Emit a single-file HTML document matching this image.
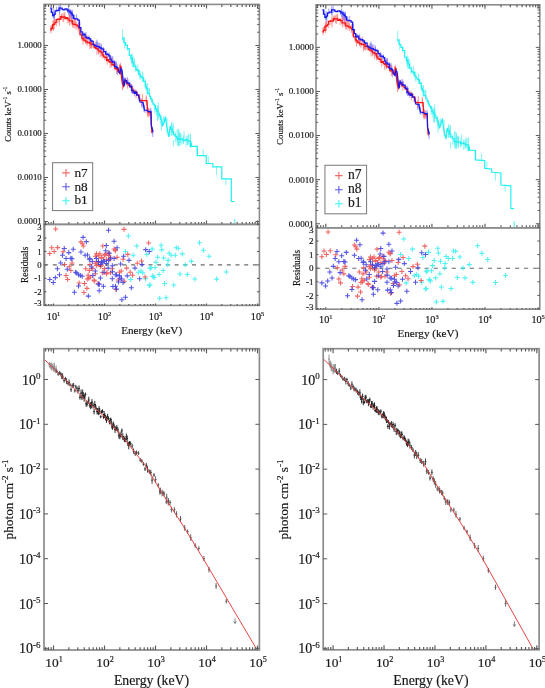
<!DOCTYPE html><html><head><meta charset="utf-8"><style>html,body{margin:0;padding:0;background:#fff;}svg{display:block;filter:blur(0.4px);}text{font-family:"Liberation Serif",serif;stroke:#151515;stroke-width:0.17px;}</style></head><body><svg width="545" height="688" viewBox="0 0 545 688" font-family="Liberation Serif, serif">
<rect width="545" height="688" fill="#fff"/>
<path d="M96.70 41.32v8.55M98.07 43.02v6.52M69.18 8.78v6.78M131.72 84.40v4.82M59.52 6.78v7.16M54.51 12.06v8.79M117.42 67.55v3.94M51.74 9.15v3.36M69.75 9.97v3.18M97.89 41.86v8.05M103.57 47.98v6.00M118.30 68.13v4.67M152.76 129.00v8.04M122.96 76.70v4.38M79.91 21.72v7.60M91.36 39.95v5.32M148.69 111.23v3.00M71.76 13.47v5.82M150.98 109.37v3.44M114.91 63.48v4.62M59.16 4.11v8.78M128.13 79.36v4.48M60.59 3.31v7.78M68.47 8.92v5.68M69.80 11.67v3.79M116.37 62.88v5.52M72.08 9.75v8.83M132.79 85.64v8.31M71.86 10.36v8.13M116.18 60.76v8.94M72.12 10.35v7.64M84.02 32.31v3.44M59.46 7.23v4.46M112.01 56.81v5.72M148.80 108.11v6.45M139.28 94.44v3.92M143.59 104.45v4.50M69.71 9.20v8.64M70.41 10.90v8.29M112.24 58.37v3.62M54.18 14.51v4.43M122.63 71.36v7.94M111.52 56.67v4.05M124.25 80.82v4.37M107.70 52.98v6.69M79.01 21.84v4.22M51.90 7.58v5.67M56.41 6.72v5.21M109.02 52.34v5.17M141.79 100.75v6.94M121.26 67.30v3.84M53.81 9.11v8.46M122.26 72.88v3.13M115.60 62.07v7.38M82.98 34.25v3.45M106.34 50.13v8.40M125.97 77.65v7.76M144.26 104.66v7.11M142.81 101.20v5.50M131.47 86.17v6.44M114.45 60.19v6.50M112.79 56.12v6.84M152.31 127.09v7.37M90.13 37.82v6.49M95.49 44.17v3.50M127.32 77.14v6.61M99.64 42.68v7.19M101.32 44.73v8.52M76.50 14.24v4.81M119.91 70.16v4.02M143.31 101.86v5.65M141.87 98.12v7.00M70.61 9.27v7.84M144.18 107.28v5.31M110.14 55.05v3.82M101.24 45.77v8.09M123.31 81.51v4.66M67.59 8.24v4.65M72.21 11.50v6.75M100.97 43.53v8.03M151.15 116.49v3.45M53.44 15.32v3.25M123.05 78.16v4.85M131.57 84.30v3.82M96.96 39.63v7.98M74.61 14.71v3.28M114.88 61.03v6.78M117.54 66.12v8.75M120.57 66.54v5.85M68.57 6.73v5.83M123.62 80.41v4.63M85.74 34.01v6.12M113.37 60.45v5.36M131.61 88.08v3.52M146.07 109.31v3.78M96.82 41.71v8.46M88.94 35.20v8.28M132.11 88.10v5.78M117.16 63.73v7.33M134.33 88.80v7.31M72.13 12.29v8.88M150.67 107.78v7.74M83.14 31.69v8.13M86.03 32.03v5.65M106.77 51.98v5.92M53.12 14.24v3.38M132.43 86.04v5.01M131.20 84.01v3.89M103.30 47.01v8.04M121.07 67.41v5.96" stroke="#7a7aff" stroke-width="1.0" fill="none" opacity="0.7"/>
<path d="M98.51 46.80v7.66M64.72 12.15v5.62M78.10 23.39v7.83M111.43 59.12v7.63M64.99 15.07v4.14M142.43 93.93v8.73M57.80 18.03v5.36M91.39 44.15v3.13M56.39 19.84v6.56M59.46 16.21v9.63M61.66 15.29v3.95M82.02 36.74v4.14M121.14 65.69v4.20M133.24 88.20v5.93M110.87 59.28v5.69M53.30 21.44v9.77M149.59 110.57v5.49M87.17 38.18v7.72M61.79 13.51v5.54M102.26 51.99v6.50M53.06 24.19v6.01M103.03 50.16v5.99M89.72 42.31v3.72M106.19 53.14v7.87M53.95 20.35v5.41M115.04 61.76v6.21M71.46 17.07v6.33M147.80 106.36v9.69M67.26 17.63v5.55M69.46 16.24v9.38M50.88 25.08v8.39M84.99 37.14v3.06M54.27 19.31v9.89M151.85 129.90v3.17M83.03 35.89v8.82M115.29 62.80v6.69M98.80 48.32v4.84M146.57 100.40v4.14M79.86 29.91v4.95M146.29 96.64v7.87M121.94 76.70v5.00M76.15 21.58v7.86M63.61 16.23v5.94M74.76 18.53v9.86M107.20 55.38v9.44M148.13 109.97v5.92M110.10 59.42v8.52M109.26 57.51v5.58M125.11 79.74v3.12M122.49 81.68v8.58M141.56 99.18v6.74M130.53 84.12v3.69M86.15 34.79v9.54M120.35 62.72v7.35M62.90 13.45v7.90M90.33 39.04v5.85M83.14 37.87v3.99M59.42 13.74v7.87M127.53 79.06v9.54M87.42 35.70v6.41M95.37 41.65v7.67M84.94 35.98v5.29M146.28 95.28v5.52M78.67 22.07v6.03M72.63 21.18v6.51M121.27 68.04v6.25M111.94 62.54v4.75M96.99 45.86v8.82M73.36 18.99v8.33M90.44 40.36v7.64M149.19 108.89v7.77M85.85 38.89v5.26M101.09 49.14v5.15M64.04 12.55v6.81M75.84 17.82v8.63M79.28 27.18v7.19M89.81 40.10v9.28M82.87 33.15v7.49M135.99 89.79v8.49M92.18 42.75v4.84M91.62 40.73v5.69M90.87 43.08v4.19M71.08 14.87v9.80M103.42 48.43v8.85M139.13 95.85v5.51M124.99 77.94v3.96M138.29 95.21v4.48M139.76 94.60v5.16M51.52 25.24v4.14M123.07 81.96v4.33M68.94 13.82v9.04M111.98 57.35v7.79M104.79 53.41v6.69M116.52 67.59v6.54M114.90 63.01v7.44M89.75 39.10v6.62M122.99 79.13v9.47M100.24 49.34v7.83M147.55 108.97v5.99M91.52 40.50v8.28M135.62 89.67v3.44M61.21 14.02v3.40M51.06 26.88v3.79M119.96 64.12v9.76M147.98 107.89v9.65M53.06 19.49v9.48M98.60 44.31v8.30M93.32 43.01v5.21M74.81 18.12v7.25M147.19 102.74v8.36" stroke="#ff7070" stroke-width="1.0" fill="none" opacity="0.7"/>
<path d="M140.04 71.08v9.16M180.48 134.15v5.08M132.38 53.48v9.61M131.22 54.35v4.93M142.48 71.53v10.54M163.98 117.39v5.48M132.35 56.92v10.29M177.51 136.09v9.70M187.33 139.96v5.31M180.52 133.61v9.80M160.94 115.91v6.28M151.74 97.34v4.06M178.45 134.77v11.87M169.63 126.66v9.74M131.54 54.69v6.99M134.40 58.23v7.70M139.65 69.54v8.45M149.41 88.89v7.42M138.43 68.34v4.75M147.40 83.32v8.86M187.63 135.53v9.47M186.21 135.70v4.28M177.52 136.64v8.75M133.24 56.40v10.81M183.00 138.95v4.83M180.78 133.21v9.45M131.69 56.23v8.43M171.81 123.50v8.56M162.09 120.71v6.23M172.15 126.51v5.66M133.57 61.86v4.01M137.75 64.37v8.79M160.40 116.34v3.35M152.41 98.97v3.83M122.50 36.28v4.09M142.95 72.81v8.38M127.60 44.48v6.30M179.46 132.71v6.01M156.31 107.78v7.65M154.78 104.54v5.67M124.47 37.29v11.19M172.88 125.73v9.16M180.46 132.97v8.29M146.66 83.90v5.59M136.26 67.20v3.34M149.54 87.71v9.82M163.39 116.13v9.96M135.34 64.11v7.99M145.10 79.22v6.91M131.68 57.79v4.01M178.71 134.30v5.73M148.90 88.89v4.15M147.03 83.48v10.89M190.10 134.65v7.82M131.16 55.42v5.90M183.46 137.93v4.13M122.64 28.98v10.81M132.56 57.23v6.34M145.93 85.55v4.92M171.51 124.03v11.42" stroke="#66f2f2" stroke-width="1.0" fill="none" opacity="0.75"/>
<path d="M173.40 140.00V146.20M197.00 146.20V155.40M203.20 149.20V156.40M208.30 156.40V163.60M216.50 166.70V174.90M225.80 178.00V185.20" stroke="#66f2f2" stroke-width="1" opacity="0.8"/>
<path d="M157.75 106.29v14.52M188.59 134.06v10.56M180.96 134.51v11.03M179.12 130.05v15.78M158.18 102.09v17.01M167.05 117.89v16.04M177.17 128.93v13.51M178.37 128.99v14.52M158.35 107.45v8.83M161.36 118.67v12.04M190.45 133.77v14.08M186.09 137.48v9.12M175.60 132.43v9.81M157.30 107.44v13.14M160.97 114.10v10.18M183.33 135.16v9.02M184.07 131.27v10.81M154.84 103.78v9.14M173.25 122.85v12.80M179.16 132.76v12.55M171.74 121.85v13.95M157.31 105.63v10.36" stroke="#5ef0f0" stroke-width="1.0" fill="none" opacity="0.8"/>
<polyline points="50.20,29.98 51.21,29.98 51.21,28.46 52.61,28.46 52.61,24.55 53.74,24.55 53.74,24.09 54.98,24.09 54.98,22.46 56.12,22.46 56.12,19.66 57.79,19.66 57.79,19.12 59.32,19.12 59.32,19.28 60.73,19.28 60.73,16.72 61.83,16.72 61.83,17.05 63.77,17.05 63.77,16.99 64.96,16.99 64.96,18.57 66.33,18.57 66.33,17.51 67.54,17.51 67.54,18.91 69.12,18.91 69.12,20.93 71.08,20.93 71.08,20.93 72.43,20.93 72.43,24.03 74.27,24.03 74.27,24.32 75.30,24.32 75.30,24.97 77.17,24.97 77.17,26.22 78.39,26.22 78.39,27.84 80.12,27.84 80.12,34.94 81.76,34.94 81.76,38.01 82.80,38.01 82.80,38.92 84.13,38.92 84.13,40.68 85.78,40.68 85.78,41.86 87.74,41.86 87.74,42.78 89.74,42.78 89.74,42.57 91.04,42.57 91.04,44.44 92.67,44.44 92.67,44.65 94.34,44.65 94.34,47.64 95.53,47.64 95.53,48.35 97.13,48.35 97.13,48.89 98.23,48.89 98.23,50.78 100.14,50.78 100.14,51.79 102.13,51.79 102.13,55.01 103.59,55.01 103.59,56.98 105.03,56.98 105.03,57.55 106.59,57.55 106.59,60.50 107.69,60.50 107.69,59.63 108.81,59.63 108.81,61.69 110.15,61.69 110.15,62.33 112.00,62.33 112.00,64.73 113.50,64.73 113.50,65.43 114.78,65.43 114.78,68.25 116.39,68.25 116.39,69.06 117.43,69.06 118.00,71.50 119.50,73.00 120.20,66.00 121.00,67.00 121.50,78.00 122.50,84.00 123.50,86.00 124.50,80.50 125.00,82.01 126.73,82.01 126.73,83.80 128.70,83.80 128.70,85.41 129.95,85.41 129.95,87.06 131.94,87.06 131.94,90.11 132.95,90.11 132.95,91.18 134.23,91.18 134.23,91.84 135.28,91.84 135.28,92.72 137.14,92.72 137.14,94.80 138.76,94.80 140.00,100.50 143.00,100.50 147.00,100.50 147.50,111.00 149.00,112.50 151.00,112.50 151.30,126.00 152.00,133.00" fill="none" stroke="#f41818" stroke-width="1.25" stroke-linejoin="miter"/>
<polyline points="50.20,8.15 51.28,8.15 51.28,12.32 52.58,12.32 52.58,15.68 54.08,15.68 54.08,14.42 55.18,14.42 55.18,10.96 57.02,10.96 57.02,10.43 58.96,10.43 58.96,8.00 60.34,8.00 60.34,8.06 62.09,8.06 62.09,9.25 63.10,9.25 63.10,9.75 64.94,9.75 64.94,8.95 66.90,8.95 66.90,9.79 67.98,9.79 67.98,11.09 69.96,11.09 69.96,12.33 71.12,12.33 71.12,13.59 72.16,13.59 72.16,15.16 73.52,15.16 73.52,18.27 74.83,18.27 74.83,18.91 76.00,18.91 76.00,18.91 77.73,18.91 77.73,20.21 79.31,20.21 79.31,27.67 80.90,27.67 80.90,31.87 82.23,31.87 82.23,34.99 83.63,34.99 83.63,34.17 85.05,34.17 85.05,37.01 86.53,37.01 86.53,38.02 87.98,38.02 87.98,37.73 89.07,37.73 89.07,38.92 90.73,38.92 90.73,40.99 92.03,40.99 92.03,41.34 93.22,41.34 93.22,44.35 94.23,44.35 94.23,45.29 95.92,45.29 95.92,46.33 97.41,46.33 97.41,46.70 99.27,46.70 99.27,47.65 100.80,47.65 100.80,48.32 102.02,48.32 102.02,49.03 103.75,49.03 103.75,51.61 105.60,51.61 105.60,54.16 107.20,54.16 107.20,54.48 108.85,54.48 108.85,55.81 110.09,55.81 110.09,59.30 111.12,59.30 111.12,61.09 112.72,61.09 112.72,62.10 114.50,62.10 114.50,66.56 116.46,66.56 116.46,67.73 117.92,67.73 118.50,71.00 120.00,73.50 121.00,68.50 122.00,70.00 123.00,80.00 124.00,86.50 125.00,79.50 125.50,80.56 126.67,80.56 126.67,82.68 127.75,82.68 127.75,83.10 129.73,83.10 129.73,86.42 131.51,86.42 131.51,90.40 132.99,90.40 132.99,92.16 134.37,92.16 134.37,93.28 135.40,93.28 135.40,91.90 136.59,91.90 136.59,95.01 138.47,95.01 140.00,102.00 143.00,102.50 144.50,110.00 147.00,110.50 149.00,111.50 151.00,111.50 151.30,125.00 152.00,128.00 153.00,132.00" fill="none" stroke="#1818f0" stroke-width="1.25" stroke-linejoin="miter"/>
<path d="M234.60 219.00V223.60" stroke="#8af4f4" stroke-width="1.6"/>
<polyline points="122.30,38.13 123.87,38.13 123.87,42.63 125.69,42.63 125.69,45.40 127.34,45.40 127.34,48.60 129.25,48.60 129.25,55.36 130.90,55.36 130.90,58.53 132.40,58.53 132.40,62.10 133.93,62.10 133.93,66.31 135.87,66.31 135.87,69.61 137.18,69.61 137.18,70.61 138.67,70.61 138.67,74.29 140.28,74.29 140.28,76.30 141.71,76.30 141.71,77.80 143.63,77.80 143.63,81.42 145.32,81.42 145.32,87.01 146.37,87.01 146.37,88.60 147.66,88.60 147.66,93.70 149.55,93.70 149.55,96.25 150.68,96.25 150.68,99.09 151.92,99.09 151.92,101.90 152.92,101.90 152.92,104.17 154.23,104.17 154.23,105.55 155.41,105.55 155.41,108.87 156.45,108.87 156.45,111.17 158.19,111.17 158.19,113.23 159.32,113.23 159.32,116.15 160.44,116.15 160.44,119.06 161.50,119.06 162.70,125.30 164.00,123.00 165.50,116.50 166.50,125.00 168.80,136.90 170.40,125.90 171.00,129.30 172.19,129.30 172.19,131.79 173.65,131.79 173.65,134.55 175.01,134.55 175.01,136.27 176.79,136.27 176.79,138.67 177.86,138.67 177.86,139.51 179.24,139.51 179.24,139.43 180.35,139.43 180.35,138.81 181.37,138.81 181.37,138.79 182.81,138.79 182.81,140.28 184.70,140.28 184.70,140.33 185.86,140.33 185.86,139.67 187.48,139.67 187.48,141.25 188.56,141.25 188.56,141.22 190.29,141.22 190.29,146.32 191.72,146.32 190.80,141.30 190.80,146.30 197.40,146.30 197.40,155.60 206.20,155.60 206.20,163.50 212.90,163.50 212.90,166.80 221.80,166.80 221.80,178.80 231.30,178.80 231.30,201.50 234.60,201.50" fill="none" stroke="#22f0f0" stroke-width="1.2" stroke-linejoin="miter"/>
<rect x="52.60" y="162.70" width="40.10" height="47.90" fill="#fff" stroke="#777" stroke-width="1"/>
<path d="M62.20 172.90h7.6M66.00 169.10v7.6" stroke="#f06a6a" stroke-width="1.1"/>
<text x="74.40" y="176.60" font-size="13.3" text-anchor="start" fill="#1a1a1a" >n7</text>
<path d="M62.20 186.80h7.6M66.00 183.00v7.6" stroke="#5a5ae8" stroke-width="1.1"/>
<text x="74.40" y="190.50" font-size="13.3" text-anchor="start" fill="#1a1a1a" >n8</text>
<path d="M62.20 200.70h7.6M66.00 196.90v7.6" stroke="#40f4f4" stroke-width="1.1"/>
<text x="74.40" y="204.40" font-size="13.3" text-anchor="start" fill="#1a1a1a" >b1</text>
<rect x="44.00" y="4.40" width="215.40" height="220.00" fill="none" stroke="#8c8c8c" stroke-width="1.6"/>
<path d="M45.60 4.40v2.50M45.60 224.40v-2.50M48.56 4.40v2.50M48.56 224.40v-2.50M51.17 4.40v2.50M51.17 224.40v-2.50M53.50 4.40v4.00M53.50 224.40v-4.00M68.85 4.40v2.50M68.85 224.40v-2.50M77.83 4.40v2.50M77.83 224.40v-2.50M84.21 4.40v2.50M84.21 224.40v-2.50M89.15 4.40v2.50M89.15 224.40v-2.50M93.19 4.40v2.50M93.19 224.40v-2.50M96.60 4.40v2.50M96.60 224.40v-2.50M99.56 4.40v2.50M99.56 224.40v-2.50M102.17 4.40v2.50M102.17 224.40v-2.50M104.50 4.40v4.00M104.50 224.40v-4.00M119.85 4.40v2.50M119.85 224.40v-2.50M128.83 4.40v2.50M128.83 224.40v-2.50M135.21 4.40v2.50M135.21 224.40v-2.50M140.15 4.40v2.50M140.15 224.40v-2.50M144.19 4.40v2.50M144.19 224.40v-2.50M147.60 4.40v2.50M147.60 224.40v-2.50M150.56 4.40v2.50M150.56 224.40v-2.50M153.17 4.40v2.50M153.17 224.40v-2.50M155.50 4.40v4.00M155.50 224.40v-4.00M170.85 4.40v2.50M170.85 224.40v-2.50M179.83 4.40v2.50M179.83 224.40v-2.50M186.21 4.40v2.50M186.21 224.40v-2.50M191.15 4.40v2.50M191.15 224.40v-2.50M195.19 4.40v2.50M195.19 224.40v-2.50M198.60 4.40v2.50M198.60 224.40v-2.50M201.56 4.40v2.50M201.56 224.40v-2.50M204.17 4.40v2.50M204.17 224.40v-2.50M206.50 4.40v4.00M206.50 224.40v-4.00M221.85 4.40v2.50M221.85 224.40v-2.50M230.83 4.40v2.50M230.83 224.40v-2.50M237.21 4.40v2.50M237.21 224.40v-2.50M242.15 4.40v2.50M242.15 224.40v-2.50M246.19 4.40v2.50M246.19 224.40v-2.50M249.60 4.40v2.50M249.60 224.40v-2.50M252.56 4.40v2.50M252.56 224.40v-2.50M255.17 4.40v2.50M255.17 224.40v-2.50M257.50 4.40v4.00M257.50 224.40v-4.00" stroke="#5a5a5a" stroke-width="1.15" fill="none"/>
<path d="M44.00 223.48h2.20M259.40 223.48h-2.20M44.00 221.47h4.00M259.40 221.47h-4.00M44.00 208.22h2.20M259.40 208.22h-2.20M44.00 200.48h2.20M259.40 200.48h-2.20M44.00 194.98h2.20M259.40 194.98h-2.20M44.00 190.72h2.20M259.40 190.72h-2.20M44.00 187.23h2.20M259.40 187.23h-2.20M44.00 184.29h2.20M259.40 184.29h-2.20M44.00 181.73h2.20M259.40 181.73h-2.20M44.00 179.48h2.20M259.40 179.48h-2.20M44.00 177.47h4.00M259.40 177.47h-4.00M44.00 164.22h2.20M259.40 164.22h-2.20M44.00 156.48h2.20M259.40 156.48h-2.20M44.00 150.98h2.20M259.40 150.98h-2.20M44.00 146.72h2.20M259.40 146.72h-2.20M44.00 143.23h2.20M259.40 143.23h-2.20M44.00 140.29h2.20M259.40 140.29h-2.20M44.00 137.73h2.20M259.40 137.73h-2.20M44.00 135.48h2.20M259.40 135.48h-2.20M44.00 133.47h4.00M259.40 133.47h-4.00M44.00 120.22h2.20M259.40 120.22h-2.20M44.00 112.48h2.20M259.40 112.48h-2.20M44.00 106.98h2.20M259.40 106.98h-2.20M44.00 102.72h2.20M259.40 102.72h-2.20M44.00 99.23h2.20M259.40 99.23h-2.20M44.00 96.29h2.20M259.40 96.29h-2.20M44.00 93.73h2.20M259.40 93.73h-2.20M44.00 91.48h2.20M259.40 91.48h-2.20M44.00 89.47h4.00M259.40 89.47h-4.00M44.00 76.22h2.20M259.40 76.22h-2.20M44.00 68.48h2.20M259.40 68.48h-2.20M44.00 62.98h2.20M259.40 62.98h-2.20M44.00 58.72h2.20M259.40 58.72h-2.20M44.00 55.23h2.20M259.40 55.23h-2.20M44.00 52.29h2.20M259.40 52.29h-2.20M44.00 49.73h2.20M259.40 49.73h-2.20M44.00 47.48h2.20M259.40 47.48h-2.20M44.00 45.47h4.00M259.40 45.47h-4.00M44.00 32.22h2.20M259.40 32.22h-2.20M44.00 24.48h2.20M259.40 24.48h-2.20M44.00 18.98h2.20M259.40 18.98h-2.20M44.00 14.72h2.20M259.40 14.72h-2.20M44.00 11.23h2.20M259.40 11.23h-2.20M44.00 8.29h2.20M259.40 8.29h-2.20M44.00 5.73h2.20M259.40 5.73h-2.20" stroke="#5a5a5a" stroke-width="1" fill="none"/>
<text x="41.80" y="48.32" font-size="8.9" text-anchor="end" fill="#151515" >1.0000</text>
<text x="41.80" y="92.32" font-size="8.9" text-anchor="end" fill="#151515" >0.1000</text>
<text x="41.80" y="136.32" font-size="8.9" text-anchor="end" fill="#151515" >0.0100</text>
<text x="41.80" y="180.32" font-size="8.9" text-anchor="end" fill="#151515" >0.0010</text>
<text x="41.80" y="224.32" font-size="8.9" text-anchor="end" fill="#151515" >0.0001</text>
<path d="M44.10 264.90H259.40" stroke="#6a6a6a" stroke-width="1.1" stroke-dasharray="4.00 4.70"/>
<path d="M125.89 235.92h5.00M128.39 233.42v5.00M134.24 246.05h5.00M136.74 243.55v5.00M122.91 251.41h5.00M125.41 248.91v5.00M130.66 255.23h5.00M133.16 252.73v5.00M144.37 254.39h5.00M146.87 251.89v5.00M149.73 249.03h5.00M152.23 246.53v5.00M136.02 272.27h5.00M138.52 269.77v5.00M140.20 272.87h5.00M142.70 270.37v5.00M138.41 271.08h5.00M140.91 268.58v5.00M128.28 279.42h5.00M130.78 276.92v5.00M143.18 278.83h5.00M145.68 276.33v5.00M150.33 276.44h5.00M152.83 273.94v5.00M148.54 267.50h5.00M151.04 265.00v5.00M146.75 285.38h5.00M149.25 282.88v5.00M149.52 249.25h5.00M152.02 246.75v5.00M158.60 245.21h5.00M161.10 242.71v5.00M159.21 249.85h5.00M161.71 247.35v5.00M155.17 257.32h5.00M157.67 254.82v5.00M161.22 257.92h5.00M163.72 255.42v5.00M153.55 262.36h5.00M156.05 259.86v5.00M165.66 260.35h5.00M168.16 257.85v5.00M166.67 253.28h5.00M169.17 250.78v5.00M168.69 255.30h5.00M171.19 252.80v5.00M172.73 255.30h5.00M175.23 252.80v5.00M173.74 247.83h5.00M176.24 245.33v5.00M175.75 248.24h5.00M178.25 245.74v5.00M179.79 253.89h5.00M182.29 251.39v5.00M165.26 264.79h5.00M167.76 262.29v5.00M182.82 264.79h5.00M185.32 262.29v5.00M188.87 261.35h5.00M191.37 258.85v5.00M196.95 242.79h5.00M199.45 240.29v5.00M200.98 250.25h5.00M203.48 247.75v5.00M206.63 256.31h5.00M209.13 253.81v5.00M147.50 268.42h5.00M150.00 265.92v5.00M152.55 267.41h5.00M155.05 264.91v5.00M160.62 270.44h5.00M163.12 267.94v5.00M156.58 274.47h5.00M159.08 271.97v5.00M150.53 276.09h5.00M153.03 273.59v5.00M151.54 277.50h5.00M154.04 275.00v5.00M177.37 274.07h5.00M179.87 271.57v5.00M184.84 274.47h5.00M187.34 271.97v5.00M192.30 278.91h5.00M194.80 276.41v5.00M214.10 279.11h5.00M216.60 276.61v5.00M223.79 272.05h5.00M226.29 269.55v5.00M162.03 283.55h5.00M164.53 281.05v5.00M171.31 284.97h5.00M173.81 282.47v5.00M147.50 284.97h5.00M150.00 282.47v5.00M157.19 298.29h5.00M159.69 295.79v5.00M163.65 297.68h5.00M166.15 295.18v5.00" stroke="#30eeee" stroke-width="1.05" fill="none" opacity="0.85"/>
<path d="M53.18 229.01h5.00M55.68 226.51v5.00M49.25 247.84h5.00M51.75 245.34v5.00M55.21 247.60h5.00M57.71 245.10v5.00M51.63 251.41h5.00M54.13 248.91v5.00M47.22 253.56h5.00M49.72 251.06v5.00M60.57 251.65h5.00M63.07 249.15v5.00M62.00 264.52h5.00M64.50 262.02v5.00M66.77 266.67h5.00M69.27 264.17v5.00M68.32 270.48h5.00M70.82 267.98v5.00M69.51 263.09h5.00M72.01 260.59v5.00M63.55 275.49h5.00M66.05 272.99v5.00M65.10 279.42h5.00M67.60 276.92v5.00M78.45 241.88h5.00M80.95 239.38v5.00M79.88 243.67h5.00M82.38 241.17v5.00M80.83 246.05h5.00M83.33 243.55v5.00M83.22 268.70h5.00M85.72 266.20v5.00M86.79 270.48h5.00M89.29 267.98v5.00M85.60 275.25h5.00M88.10 272.75v5.00M86.20 278.23h5.00M88.70 275.73v5.00M76.66 283.00h5.00M79.16 280.50v5.00M82.02 283.59h5.00M84.52 281.09v5.00M84.41 288.36h5.00M86.91 285.86v5.00M81.43 292.53h5.00M83.93 290.03v5.00M93.94 253.80h5.00M96.44 251.30v5.00M92.75 263.33h5.00M95.25 260.83v5.00M95.73 262.14h5.00M98.23 259.64v5.00M87.39 264.52h5.00M89.89 262.02v5.00M91.56 280.02h5.00M94.06 277.52v5.00M95.73 283.59h5.00M98.23 281.09v5.00M121.48 229.36h5.00M123.98 226.86v5.00M100.27 246.05h5.00M102.77 243.55v5.00M111.59 249.03h5.00M114.09 246.53v5.00M112.78 250.82h5.00M115.28 248.32v5.00M97.29 253.80h5.00M99.79 251.30v5.00M102.65 254.39h5.00M105.15 251.89v5.00M106.23 255.59h5.00M108.73 253.09v5.00M99.08 257.37h5.00M101.58 254.87v5.00M107.42 259.76h5.00M109.92 257.26v5.00M114.57 257.37h5.00M117.07 254.87v5.00M120.53 259.16h5.00M123.03 256.66v5.00M125.30 254.39h5.00M127.80 251.89v5.00M99.08 265.12h5.00M101.58 262.62v5.00M109.80 268.70h5.00M112.30 266.20v5.00M104.44 272.87h5.00M106.94 270.37v5.00M116.95 272.27h5.00M119.45 269.77v5.00M118.74 271.08h5.00M121.24 268.58v5.00M124.11 268.10h5.00M126.61 265.60v5.00M127.68 272.27h5.00M130.18 269.77v5.00M130.06 275.25h5.00M132.56 272.75v5.00M115.76 280.02h5.00M118.26 277.52v5.00M121.72 281.21h5.00M124.22 278.71v5.00M142.58 277.04h5.00M145.08 274.54v5.00M139.00 260.95h5.00M141.50 258.45v5.00M134.83 263.33h5.00M137.33 260.83v5.00M146.16 243.07h5.00M148.66 240.57v5.00M113.38 289.55h5.00M115.88 287.05v5.00M92.84 256.22h5.00M95.34 253.72v5.00M95.87 255.19h5.00M98.37 252.69v5.00M98.89 258.29h5.00M101.39 255.79v5.00M101.91 255.19h5.00M104.41 252.69v5.00M103.92 259.33h5.00M106.42 256.83v5.00M105.93 253.12h5.00M108.43 250.62v5.00M107.95 257.26h5.00M110.45 254.76v5.00M112.98 250.02h5.00M115.48 247.52v5.00M93.85 265.53h5.00M96.35 263.03v5.00M97.88 266.57h5.00M100.38 264.07v5.00M101.91 268.64h5.00M104.41 266.14v5.00M89.82 268.64h5.00M92.32 266.14v5.00M92.84 273.81h5.00M95.34 271.31v5.00M99.89 272.78h5.00M102.39 270.28v5.00M103.92 273.81h5.00M106.42 271.31v5.00M107.95 272.78h5.00M110.45 270.28v5.00M87.81 276.91h5.00M90.31 274.41v5.00M84.79 278.98h5.00M87.29 276.48v5.00M91.84 281.05h5.00M94.34 278.55v5.00" stroke="#f04848" stroke-width="1.05" fill="none" opacity="0.85"/>
<path d="M61.76 248.43h5.00M64.26 245.93v5.00M66.29 252.61h5.00M68.79 250.11v5.00M59.97 255.23h5.00M62.47 252.73v5.00M63.55 258.56h5.00M66.05 256.06v5.00M68.32 258.33h5.00M70.82 255.83v5.00M69.51 258.80h5.00M72.01 256.30v5.00M70.70 249.27h5.00M73.20 246.77v5.00M58.19 263.09h5.00M60.69 260.59v5.00M54.85 268.70h5.00M57.35 266.20v5.00M56.99 274.66h5.00M59.49 272.16v5.00M64.74 269.29h5.00M67.24 266.79v5.00M73.09 272.27h5.00M75.59 269.77v5.00M74.28 273.11h5.00M76.78 270.61v5.00M76.06 274.66h5.00M78.56 272.16v5.00M77.85 275.49h5.00M80.35 272.99v5.00M79.64 276.21h5.00M82.14 273.71v5.00M47.22 279.42h5.00M49.72 276.92v5.00M52.82 277.64h5.00M55.32 275.14v5.00M50.80 282.40h5.00M53.30 279.90v5.00M76.06 285.98h5.00M78.56 283.48v5.00M71.89 292.18h5.00M74.39 289.68v5.00M85.84 296.11h5.00M88.34 293.61v5.00M80.59 237.35h5.00M83.09 234.85v5.00M83.81 241.64h5.00M86.31 239.14v5.00M78.45 252.01h5.00M80.95 249.51v5.00M82.62 255.23h5.00M85.12 252.73v5.00M85.00 254.99h5.00M87.50 252.49v5.00M87.39 258.56h5.00M89.89 256.06v5.00M89.18 266.91h5.00M91.68 264.41v5.00M92.75 271.08h5.00M95.25 268.58v5.00M90.37 275.49h5.00M92.87 272.99v5.00M93.94 258.56h5.00M96.44 256.06v5.00M95.73 284.19h5.00M98.23 281.69v5.00M105.99 230.20h5.00M108.49 227.70v5.00M111.59 241.28h5.00M114.09 238.78v5.00M103.84 245.45h5.00M106.34 242.95v5.00M114.57 247.84h5.00M117.07 245.34v5.00M103.25 250.82h5.00M105.75 248.32v5.00M106.82 253.20h5.00M109.32 250.70v5.00M100.86 260.95h5.00M103.36 258.45v5.00M99.08 262.14h5.00M101.58 259.64v5.00M111.59 258.56h5.00M114.09 256.06v5.00M118.15 263.93h5.00M120.65 261.43v5.00M109.80 265.72h5.00M112.30 263.22v5.00M105.63 268.10h5.00M108.13 265.60v5.00M101.46 272.27h5.00M103.96 269.77v5.00M112.78 274.66h5.00M115.28 272.16v5.00M117.55 278.23h5.00M120.05 275.73v5.00M124.70 275.85h5.00M127.20 273.35v5.00M126.49 260.35h5.00M128.99 257.85v5.00M121.13 256.18h5.00M123.63 253.68v5.00M109.80 278.83h5.00M112.30 276.33v5.00M120.53 282.40h5.00M123.03 279.90v5.00M110.40 286.57h5.00M112.90 284.07v5.00M113.97 288.96h5.00M116.47 286.46v5.00M128.87 287.77h5.00M131.37 285.27v5.00M96.10 284.19h5.00M98.60 281.69v5.00M96.69 290.75h5.00M99.19 288.25v5.00M132.45 268.10h5.00M134.95 265.60v5.00M137.22 278.83h5.00M139.72 276.33v5.00M143.18 249.63h5.00M145.68 247.13v5.00M146.75 251.41h5.00M149.25 248.91v5.00M122.91 297.30h5.00M125.41 294.80v5.00M119.34 299.69h5.00M121.84 297.19v5.00M139.60 264.52h5.00M142.10 262.02v5.00M95.87 261.40h5.00M98.37 258.90v5.00M99.89 262.43h5.00M102.39 259.93v5.00M101.91 261.40h5.00M104.41 258.90v5.00M103.92 263.46h5.00M106.42 260.96v5.00M97.88 264.50h5.00M100.38 262.00v5.00M105.93 260.36h5.00M108.43 257.86v5.00M107.95 258.29h5.00M110.45 255.79v5.00M89.82 261.40h5.00M92.32 258.90v5.00M86.80 259.33h5.00M89.30 256.83v5.00M109.96 271.74h5.00M112.46 269.24v5.00M113.99 274.84h5.00M116.49 272.34v5.00M117.01 275.88h5.00M119.51 273.38v5.00M119.02 278.98h5.00M121.52 276.48v5.00M116.00 282.09h5.00M118.50 279.59v5.00M112.98 286.22h5.00M115.48 283.72v5.00M97.88 277.95h5.00M100.38 275.45v5.00M100.90 286.22h5.00M103.40 283.72v5.00M96.87 284.15h5.00M99.37 281.65v5.00" stroke="#3838e0" stroke-width="1.05" fill="none" opacity="0.85"/>
<rect x="44.00" y="224.40" width="215.40" height="81.00" fill="none" stroke="#8c8c8c" stroke-width="1.6"/>
<path d="M44.60 224.40V305.40" stroke="#808080" stroke-width="1.6"/>
<path d="M45.60 305.40v-1.30M48.56 305.40v-1.30M51.17 305.40v-1.30M53.50 305.40v-2.00M68.85 305.40v-1.30M77.83 305.40v-1.30M84.21 305.40v-1.30M89.15 305.40v-1.30M93.19 305.40v-1.30M96.60 305.40v-1.30M99.56 305.40v-1.30M102.17 305.40v-1.30M104.50 305.40v-2.00M119.85 305.40v-1.30M128.83 305.40v-1.30M135.21 305.40v-1.30M140.15 305.40v-1.30M144.19 305.40v-1.30M147.60 305.40v-1.30M150.56 305.40v-1.30M153.17 305.40v-1.30M155.50 305.40v-2.00M170.85 305.40v-1.30M179.83 305.40v-1.30M186.21 305.40v-1.30M191.15 305.40v-1.30M195.19 305.40v-1.30M198.60 305.40v-1.30M201.56 305.40v-1.30M204.17 305.40v-1.30M206.50 305.40v-2.00M221.85 305.40v-1.30M230.83 305.40v-1.30M237.21 305.40v-1.30M242.15 305.40v-1.30M246.19 305.40v-1.30M249.60 305.40v-1.30M252.56 305.40v-1.30M255.17 305.40v-1.30M257.50 305.40v-2.00" stroke="#5a5a5a" stroke-width="1.15" fill="none"/>
<path d="M44.00 305.25h2.5M259.40 305.25h-2.5M44.00 291.80h2.5M259.40 291.80h-2.5M44.00 278.35h2.5M259.40 278.35h-2.5M44.00 264.90h2.5M259.40 264.90h-2.5M44.00 251.45h2.5M259.40 251.45h-2.5M44.00 238.00h2.5M259.40 238.00h-2.5M44.00 224.55h2.5M259.40 224.55h-2.5" stroke="#5a5a5a" stroke-width="1" fill="none"/>
<text x="41.60" y="306.15" font-size="8.7" text-anchor="end" fill="#151515" >-3</text>
<text x="41.60" y="294.90" font-size="8.7" text-anchor="end" fill="#151515" >-2</text>
<text x="41.60" y="281.45" font-size="8.7" text-anchor="end" fill="#151515" >-1</text>
<text x="41.60" y="268.00" font-size="8.7" text-anchor="end" fill="#151515" >0</text>
<text x="41.60" y="254.55" font-size="8.7" text-anchor="end" fill="#151515" >1</text>
<text x="41.60" y="241.10" font-size="8.7" text-anchor="end" fill="#151515" >2</text>
<text x="41.60" y="230.15" font-size="8.7" text-anchor="end" fill="#151515" >3</text>
<path d="M370.76 43.20v8.55M372.18 44.90v6.52M342.12 10.58v6.78M407.19 86.38v4.82M332.07 8.58v7.16M326.85 13.87v8.79M392.32 69.49v3.94M323.97 10.95v3.36M342.71 11.78v3.18M371.99 43.75v8.05M377.90 49.87v6.00M393.23 70.07v4.67M429.09 131.07v8.04M398.08 78.66v4.38M353.29 23.56v7.60M365.20 41.82v5.32M424.85 113.26v3.00M344.80 15.28v5.82M427.24 111.40v3.44M389.70 65.41v4.62M331.69 5.91v8.78M403.46 81.32v4.48M333.18 5.11v7.78M341.37 10.72v5.68M342.76 13.48v3.79M391.23 64.81v5.52M345.14 11.57v8.83M408.31 87.63v8.31M344.91 12.17v8.13M391.02 62.69v8.94M345.18 12.16v7.64M357.56 34.17v3.44M332.01 9.03v4.46M386.69 58.72v5.72M424.97 110.14v6.45M415.06 96.44v3.92M419.54 106.47v4.50M342.67 11.00v8.64M343.40 12.71v8.29M386.93 60.28v3.62M326.51 16.32v4.43M397.74 73.31v7.94M386.17 58.58v4.05M399.42 82.79v4.37M382.20 54.88v6.69M352.34 23.67v4.22M324.14 9.39v5.67M328.83 8.52v5.21M383.57 54.24v5.17M417.67 102.76v6.94M396.31 69.24v3.84M326.12 10.93v8.46M397.35 74.83v3.13M390.42 64.00v7.38M356.48 36.11v3.45M380.78 52.03v8.40M401.21 79.61v7.76M420.25 106.69v7.11M418.73 103.21v5.50M406.93 88.15v6.44M389.22 62.11v6.50M387.50 58.04v6.84M428.62 129.16v7.37M363.92 39.68v6.49M369.49 46.05v3.50M402.62 79.10v6.61M373.82 44.56v7.19M375.56 46.61v8.52M349.73 16.06v4.81M394.91 72.10v4.02M419.25 103.87v5.65M417.76 100.13v7.00M343.60 11.08v7.84M420.16 109.30v5.31M384.74 56.96v3.82M375.47 47.66v8.09M398.45 83.47v4.66M340.46 10.04v4.65M345.27 13.31v6.75M375.20 45.42v8.03M427.42 118.53v3.45M325.73 17.13v3.25M398.17 80.12v4.85M407.04 86.28v3.82M371.02 41.51v7.98M347.76 16.53v3.28M389.67 62.95v6.78M392.44 68.06v8.75M395.59 68.48v5.85M341.48 8.54v5.83M398.76 82.38v4.63M359.35 35.87v6.12M388.10 62.37v5.36M407.08 90.06v3.52M422.13 111.34v3.78M370.88 43.59v8.46M362.67 37.06v8.28M407.60 90.08v5.78M392.04 65.67v7.33M409.91 90.78v7.31M345.18 14.11v8.88M426.92 109.81v7.74M356.64 33.54v8.13M359.65 33.89v5.65M381.23 53.88v5.92M325.41 16.05v3.38M407.93 88.02v5.01M406.65 85.98v3.89M377.62 48.90v8.04M396.11 69.34v5.96" stroke="#7a7aff" stroke-width="1.0" fill="none" opacity="0.7"/>
<path d="M372.64 48.69v7.66M337.47 13.96v5.62M351.40 25.23v7.83M386.08 61.04v7.63M337.76 16.89v4.14M418.34 95.93v8.73M330.27 19.85v5.36M365.23 46.03v3.13M328.81 21.67v6.56M332.00 18.03v9.63M334.29 17.11v3.95M355.47 38.60v4.14M396.18 67.62v4.20M408.77 90.18v5.93M385.50 61.19v5.69M325.60 23.28v9.77M425.79 112.60v5.49M360.83 40.05v7.72M334.42 15.32v5.54M376.53 53.88v6.50M325.35 26.02v6.01M377.34 52.06v5.99M363.49 44.19v3.72M380.63 55.05v7.87M326.27 22.18v5.41M389.84 63.69v6.21M344.48 18.89v6.33M423.93 108.39v9.69M340.12 19.45v5.55M342.41 18.06v9.38M323.07 26.92v8.39M358.57 39.00v3.06M326.61 21.14v9.89M428.14 131.98v3.17M356.52 37.75v8.82M390.10 64.73v6.69M372.94 50.21v4.84M422.65 102.41v4.14M353.23 31.76v4.95M422.36 98.65v7.87M397.02 78.66v5.00M349.37 23.41v7.86M336.32 18.05v5.94M347.92 20.36v9.86M381.68 57.30v9.44M424.27 112.00v5.92M384.70 61.33v8.52M383.82 59.42v5.58M400.31 81.70v3.12M397.59 83.64v8.58M417.44 101.19v6.74M405.96 86.09v3.69M359.78 36.65v9.54M395.37 64.65v7.35M335.58 15.27v7.90M364.12 40.92v5.85M356.64 39.73v3.99M331.96 15.56v7.87M402.83 81.02v9.54M361.10 37.57v6.41M369.37 43.53v7.67M358.52 37.85v5.29M422.34 97.28v5.52M351.99 23.91v6.03M345.71 23.01v6.51M396.32 69.98v6.25M386.62 64.46v4.75M371.06 47.74v8.82M346.47 20.82v8.33M364.24 42.24v7.64M425.38 110.92v7.77M359.47 40.76v5.26M375.32 51.04v5.15M336.76 14.36v6.81M349.05 19.66v8.63M352.62 29.02v7.19M363.58 41.97v9.28M356.37 35.01v7.49M411.63 91.78v8.49M366.05 44.63v4.84M365.47 42.61v5.69M364.69 44.95v4.19M344.09 16.70v9.80M377.74 50.33v8.85M414.90 97.85v5.51M400.19 79.90v3.96M414.03 97.21v4.48M415.57 96.60v5.16M323.74 27.08v4.14M398.20 83.93v4.33M341.86 15.64v9.04M386.65 59.27v7.79M379.17 55.32v6.69M391.38 69.53v6.54M389.69 64.94v7.44M363.52 40.97v6.62M398.11 81.10v9.47M374.44 51.24v7.83M423.67 111.00v5.99M365.36 42.38v8.28M411.25 91.66v3.44M333.82 15.84v3.40M323.26 28.72v3.79M394.96 66.05v9.76M424.12 109.92v9.65M325.34 21.32v9.48M372.73 46.20v8.30M367.23 44.89v5.21M347.97 19.95v7.25M423.29 104.75v8.36" stroke="#ff7070" stroke-width="1.0" fill="none" opacity="0.7"/>
<path d="M415.85 73.02v9.16M457.93 137.01v5.08M407.88 55.40v9.61M406.67 56.26v4.93M418.40 73.48v10.54M440.76 119.44v5.48M407.85 58.83v10.29M454.85 138.71v9.70M465.06 143.37v5.31M457.98 136.47v9.80M437.60 117.96v6.28M428.03 99.35v4.06M455.82 137.46v11.87M446.64 128.74v9.74M407.00 56.60v6.99M409.98 60.15v7.70M415.45 71.49v8.45M425.60 90.88v7.42M414.18 70.28v4.75M423.51 85.30v8.86M465.37 138.97v9.47M463.90 139.02v4.28M454.85 139.26v8.75M408.78 58.32v10.81M460.56 142.01v4.83M458.24 136.09v9.45M407.16 58.14v8.43M448.91 125.65v8.56M438.80 122.76v6.23M449.26 128.69v5.66M409.12 63.77v4.01M413.47 66.31v8.79M437.04 118.39v3.35M428.73 100.97v3.83M397.60 38.14v4.09M418.88 74.76v8.38M402.91 46.37v6.30M456.88 135.49v6.01M432.79 109.80v7.65M431.20 106.56v5.67M399.65 39.16v11.19M450.02 127.97v9.16M457.92 135.83v8.29M422.74 85.88v5.59M411.92 69.13v3.34M425.74 89.70v9.82M440.15 118.19v9.96M410.97 66.04v7.99M421.12 81.18v6.91M407.16 59.70v4.01M456.09 137.02v5.73M425.07 90.88v4.15M423.13 85.46v10.89M467.95 138.28v7.82M406.61 57.32v5.90M461.04 141.03v4.13M397.74 30.84v10.81M408.07 59.14v6.34M421.98 87.52v4.92M448.60 126.16v11.42" stroke="#66f2f2" stroke-width="1.0" fill="none" opacity="0.75"/>
<path d="M450.57 142.30V148.52M475.12 150.39V159.61M481.58 153.88V161.10M486.88 161.50V168.72M495.42 172.48V180.70M505.09 184.54V191.76" stroke="#66f2f2" stroke-width="1" opacity="0.8"/>
<path d="M434.28 108.32v14.52M466.38 137.57v10.56M458.43 137.41v11.03M456.52 132.80v15.78M434.73 104.13v17.01M443.96 119.96v16.04M454.49 131.53v13.51M455.74 131.68v14.52M434.91 109.48v8.83M438.04 120.72v12.04M468.30 137.43v14.08M463.77 140.79v9.12M452.85 134.89v9.81M433.82 109.46v13.14M437.63 116.14v10.18M460.90 138.25v9.02M461.67 134.42v10.81M431.25 105.80v9.14M450.41 125.12v12.80M456.56 135.51v12.55M448.84 124.00v13.95M433.82 107.66v10.36" stroke="#5ef0f0" stroke-width="1.0" fill="none" opacity="0.8"/>
<polyline points="322.37,31.82 323.42,31.82 323.42,30.30 324.87,30.30 324.87,26.38 326.05,26.38 326.05,25.92 327.34,25.92 327.34,24.28 328.53,24.28 328.53,21.48 330.26,21.48 330.26,20.94 331.86,20.94 331.86,21.10 333.33,21.10 333.33,18.53 334.46,18.53 334.46,18.87 336.48,18.87 336.48,18.81 337.73,18.81 337.73,20.39 339.15,20.39 339.15,19.33 340.41,19.33 340.41,20.73 342.06,20.73 342.06,22.76 344.09,22.76 344.09,22.76 345.50,22.76 345.50,25.87 347.41,25.87 347.41,26.15 348.49,26.15 348.49,26.81 350.43,26.81 350.43,28.06 351.70,28.06 351.70,29.67 353.50,29.67 353.50,36.79 355.21,36.79 355.21,39.88 356.29,39.88 356.29,40.79 357.68,40.79 357.68,42.55 359.39,42.55 359.39,43.73 361.43,43.73 361.43,44.66 363.51,44.66 363.51,44.44 364.87,44.44 364.87,46.32 366.56,46.32 366.56,46.52 368.30,46.52 368.30,49.52 369.54,49.52 369.54,50.24 371.21,50.24 371.21,50.78 372.35,50.78 372.35,52.67 374.33,52.67 374.33,53.69 376.41,53.69 376.41,56.91 377.92,56.91 377.92,58.88 379.42,58.88 379.42,59.46 381.05,59.46 381.05,62.41 382.19,62.41 382.19,61.54 383.36,61.54 383.36,63.60 384.75,63.60 384.75,64.25 386.67,64.25 386.67,66.66 388.23,66.66 388.23,67.36 389.56,67.36 389.56,70.19 391.24,70.19 391.24,71.00 392.32,71.00 392.92,73.44 394.48,74.94 395.21,67.93 396.04,68.93 396.56,79.95 397.60,85.97 398.64,87.97 399.68,82.46 400.20,83.98 402.00,83.98 402.00,85.77 404.05,85.77 404.05,87.38 405.36,87.38 405.36,89.03 407.42,89.03 407.42,92.09 408.47,92.09 408.47,93.17 409.81,93.17 409.81,93.83 410.90,93.83 410.90,94.71 412.84,94.71 412.84,96.80 414.52,96.80 415.81,102.51 418.93,102.51 423.10,102.51 423.62,113.03 425.18,114.53 427.26,114.53 427.57,128.06 428.30,135.08" fill="none" stroke="#f41818" stroke-width="1.25" stroke-linejoin="miter"/>
<polyline points="322.37,9.95 323.49,9.95 323.49,14.13 324.84,14.13 324.84,17.49 326.40,17.49 326.40,16.23 327.55,16.23 327.55,12.76 329.46,12.76 329.46,12.23 331.49,12.23 331.49,9.80 332.91,9.80 332.91,9.85 334.74,9.85 334.74,11.05 335.79,11.05 335.79,11.55 337.71,11.55 337.71,10.75 339.74,10.75 339.74,11.59 340.87,11.59 340.87,12.89 342.92,12.89 342.92,14.14 344.13,14.14 344.13,15.40 345.22,15.40 345.22,16.97 346.63,16.97 346.63,20.09 347.99,20.09 347.99,20.73 349.21,20.73 349.21,20.73 351.02,20.73 351.02,22.03 352.66,22.03 352.66,29.51 354.31,29.51 354.31,33.72 355.69,33.72 355.69,36.85 357.15,36.85 357.15,36.02 358.63,36.02 358.63,38.87 360.17,38.87 360.17,39.88 361.67,39.88 361.67,39.59 362.81,39.59 362.81,40.78 364.54,40.78 364.54,42.86 365.89,42.86 365.89,43.21 367.14,43.21 367.14,46.23 368.18,46.23 368.18,47.17 369.94,47.17 369.94,48.21 371.49,48.21 371.49,48.58 373.43,48.58 373.43,49.53 375.02,49.53 375.02,50.21 376.29,50.21 376.29,50.91 378.09,50.91 378.09,53.51 380.01,53.51 380.01,56.06 381.68,56.06 381.68,56.38 383.39,56.38 383.39,57.71 384.69,57.71 384.69,61.22 385.76,61.22 385.76,63.01 387.42,63.01 387.42,64.02 389.27,64.02 389.27,68.49 391.32,68.49 391.32,69.66 392.83,69.66 393.44,72.94 395.00,75.44 396.04,70.43 397.08,71.94 398.12,81.96 399.16,88.47 400.20,81.46 400.72,82.52 401.94,82.52 401.94,84.64 403.06,84.64 403.06,85.07 405.12,85.07 405.12,88.40 406.97,88.40 406.97,92.38 408.52,92.38 408.52,94.15 409.95,94.15 409.95,95.27 411.03,95.27 411.03,93.89 412.26,93.89 412.26,97.01 414.22,97.01 415.81,104.01 418.93,104.51 420.49,112.03 423.10,112.53 425.18,113.53 427.26,113.53 427.57,127.06 428.30,130.07 429.34,134.08" fill="none" stroke="#1818f0" stroke-width="1.25" stroke-linejoin="miter"/>
<path d="M514.25 221.27V227.00" stroke="#8af4f4" stroke-width="1.6"/>
<polyline points="397.39,39.99 399.03,39.99 399.03,44.51 400.92,44.51 400.92,47.28 402.64,47.28 402.64,50.49 404.62,50.49 404.62,57.26 406.34,57.26 406.34,60.44 407.91,60.44 407.91,64.02 409.50,64.02 409.50,68.24 411.52,68.24 411.52,71.54 412.87,71.54 412.87,72.55 414.43,72.55 414.43,76.23 416.10,76.23 416.10,78.25 417.59,78.25 417.59,79.75 419.59,79.75 419.59,83.39 421.34,83.39 421.34,88.99 422.44,88.99 422.44,90.57 423.78,90.57 423.78,95.69 425.75,95.69 425.75,98.24 426.92,98.24 426.92,101.10 428.21,101.10 428.21,103.91 429.26,103.91 429.26,106.18 430.62,106.18 430.62,107.57 431.85,107.57 431.85,110.89 432.93,110.89 432.93,113.20 434.74,113.20 434.74,115.26 435.91,115.26 435.91,118.19 437.08,118.19 437.08,121.10 438.18,121.10 439.43,127.36 440.79,125.06 442.35,118.54 443.39,127.06 445.78,138.99 447.44,127.96 448.07,131.44 449.31,131.44 449.31,134.03 450.83,134.03 450.83,136.92 452.24,136.92 452.24,138.76 454.10,138.76 454.10,141.28 455.21,141.28 455.21,142.21 456.65,142.21 456.65,142.24 457.80,142.24 457.80,141.70 458.86,141.70 458.86,141.77 460.36,141.77 460.36,143.40 462.33,143.40 462.33,143.58 463.54,143.58 463.54,143.02 465.21,143.02 465.21,144.72 466.35,144.72 466.35,144.79 468.15,144.79 468.15,150.03 469.63,150.03 468.67,144.98 468.67,149.99 475.54,150.52 475.54,159.84 484.70,160.54 484.70,168.45 491.67,168.99 491.67,172.29 500.93,173.00 500.93,185.03 510.82,185.78 510.82,208.53 514.25,208.59" fill="none" stroke="#22f0f0" stroke-width="1.2" stroke-linejoin="miter"/>
<rect x="324.94" y="165.26" width="41.66" height="48.55" fill="#fff" stroke="#777" stroke-width="1"/>
<path d="M335.06 175.60h7.6M338.86 171.80v7.6" stroke="#f06a6a" stroke-width="1.1"/>
<text x="347.89" y="179.30" font-size="13.6" text-anchor="start" fill="#1a1a1a" >n7</text>
<path d="M335.06 189.69h7.6M338.86 185.89v7.6" stroke="#5a5ae8" stroke-width="1.1"/>
<text x="347.89" y="193.39" font-size="13.6" text-anchor="start" fill="#1a1a1a" >n8</text>
<path d="M335.06 203.78h7.6M338.86 199.98v7.6" stroke="#40f4f4" stroke-width="1.1"/>
<text x="347.89" y="207.48" font-size="13.6" text-anchor="start" fill="#1a1a1a" >b1</text>
<rect x="316.00" y="4.80" width="223.80" height="223.00" fill="none" stroke="#8c8c8c" stroke-width="1.6"/>
<path d="M317.58 4.80v2.50M317.58 227.80v-2.50M320.66 4.80v2.50M320.66 227.80v-2.50M323.37 4.80v2.50M323.37 227.80v-2.50M325.80 4.80v4.00M325.80 227.80v-4.00M341.78 4.80v2.50M341.78 227.80v-2.50M351.12 4.80v2.50M351.12 227.80v-2.50M357.75 4.80v2.50M357.75 227.80v-2.50M362.89 4.80v2.50M362.89 227.80v-2.50M367.10 4.80v2.50M367.10 227.80v-2.50M370.65 4.80v2.50M370.65 227.80v-2.50M373.73 4.80v2.50M373.73 227.80v-2.50M376.44 4.80v2.50M376.44 227.80v-2.50M378.87 4.80v4.00M378.87 227.80v-4.00M394.85 4.80v2.50M394.85 227.80v-2.50M404.19 4.80v2.50M404.19 227.80v-2.50M410.82 4.80v2.50M410.82 227.80v-2.50M415.96 4.80v2.50M415.96 227.80v-2.50M420.17 4.80v2.50M420.17 227.80v-2.50M423.72 4.80v2.50M423.72 227.80v-2.50M426.80 4.80v2.50M426.80 227.80v-2.50M429.51 4.80v2.50M429.51 227.80v-2.50M431.94 4.80v4.00M431.94 227.80v-4.00M447.92 4.80v2.50M447.92 227.80v-2.50M457.26 4.80v2.50M457.26 227.80v-2.50M463.89 4.80v2.50M463.89 227.80v-2.50M469.03 4.80v2.50M469.03 227.80v-2.50M473.24 4.80v2.50M473.24 227.80v-2.50M476.79 4.80v2.50M476.79 227.80v-2.50M479.87 4.80v2.50M479.87 227.80v-2.50M482.58 4.80v2.50M482.58 227.80v-2.50M485.01 4.80v4.00M485.01 227.80v-4.00M500.99 4.80v2.50M500.99 227.80v-2.50M510.33 4.80v2.50M510.33 227.80v-2.50M516.96 4.80v2.50M516.96 227.80v-2.50M522.10 4.80v2.50M522.10 227.80v-2.50M526.31 4.80v2.50M526.31 227.80v-2.50M529.86 4.80v2.50M529.86 227.80v-2.50M532.94 4.80v2.50M532.94 227.80v-2.50M535.65 4.80v2.50M535.65 227.80v-2.50M538.08 4.80v4.00M538.08 227.80v-4.00" stroke="#5a5a5a" stroke-width="1.15" fill="none"/>
<path d="M316.00 225.77h2.20M539.80 225.77h-2.20M316.00 223.75h4.00M539.80 223.75h-4.00M316.00 210.47h2.20M539.80 210.47h-2.20M316.00 202.71h2.20M539.80 202.71h-2.20M316.00 197.20h2.20M539.80 197.20h-2.20M316.00 192.93h2.20M539.80 192.93h-2.20M316.00 189.43h2.20M539.80 189.43h-2.20M316.00 186.48h2.20M539.80 186.48h-2.20M316.00 183.92h2.20M539.80 183.92h-2.20M316.00 181.67h2.20M539.80 181.67h-2.20M316.00 179.65h4.00M539.80 179.65h-4.00M316.00 166.37h2.20M539.80 166.37h-2.20M316.00 158.61h2.20M539.80 158.61h-2.20M316.00 153.10h2.20M539.80 153.10h-2.20M316.00 148.83h2.20M539.80 148.83h-2.20M316.00 145.33h2.20M539.80 145.33h-2.20M316.00 142.38h2.20M539.80 142.38h-2.20M316.00 139.82h2.20M539.80 139.82h-2.20M316.00 137.57h2.20M539.80 137.57h-2.20M316.00 135.55h4.00M539.80 135.55h-4.00M316.00 122.27h2.20M539.80 122.27h-2.20M316.00 114.51h2.20M539.80 114.51h-2.20M316.00 109.00h2.20M539.80 109.00h-2.20M316.00 104.73h2.20M539.80 104.73h-2.20M316.00 101.23h2.20M539.80 101.23h-2.20M316.00 98.28h2.20M539.80 98.28h-2.20M316.00 95.72h2.20M539.80 95.72h-2.20M316.00 93.47h2.20M539.80 93.47h-2.20M316.00 91.45h4.00M539.80 91.45h-4.00M316.00 78.17h2.20M539.80 78.17h-2.20M316.00 70.41h2.20M539.80 70.41h-2.20M316.00 64.90h2.20M539.80 64.90h-2.20M316.00 60.63h2.20M539.80 60.63h-2.20M316.00 57.13h2.20M539.80 57.13h-2.20M316.00 54.18h2.20M539.80 54.18h-2.20M316.00 51.62h2.20M539.80 51.62h-2.20M316.00 49.37h2.20M539.80 49.37h-2.20M316.00 47.35h4.00M539.80 47.35h-4.00M316.00 34.07h2.20M539.80 34.07h-2.20M316.00 26.31h2.20M539.80 26.31h-2.20M316.00 20.80h2.20M539.80 20.80h-2.20M316.00 16.53h2.20M539.80 16.53h-2.20M316.00 13.03h2.20M539.80 13.03h-2.20M316.00 10.08h2.20M539.80 10.08h-2.20M316.00 7.52h2.20M539.80 7.52h-2.20M316.00 5.27h2.20M539.80 5.27h-2.20" stroke="#5a5a5a" stroke-width="1" fill="none"/>
<text x="313.80" y="50.20" font-size="9.1" text-anchor="end" fill="#151515" >1.0000</text>
<text x="313.80" y="94.30" font-size="9.1" text-anchor="end" fill="#151515" >0.1000</text>
<text x="313.80" y="138.40" font-size="9.1" text-anchor="end" fill="#151515" >0.0100</text>
<text x="313.80" y="182.50" font-size="9.1" text-anchor="end" fill="#151515" >0.0010</text>
<text x="313.80" y="226.60" font-size="9.1" text-anchor="end" fill="#151515" >0.0001</text>
<path d="M316.10 268.20H539.80" stroke="#6a6a6a" stroke-width="1.1" stroke-dasharray="4.16 4.88"/>
<path d="M401.23 238.90h5.00M403.73 236.40v5.00M409.92 249.14h5.00M412.42 246.64v5.00M398.13 254.56h5.00M400.63 252.06v5.00M406.19 258.42h5.00M408.69 255.92v5.00M420.46 257.58h5.00M422.96 255.08v5.00M426.04 252.15h5.00M428.54 249.65v5.00M411.78 275.65h5.00M414.28 273.15v5.00M416.12 276.26h5.00M418.62 273.76v5.00M414.26 274.45h5.00M416.76 271.95v5.00M403.71 282.89h5.00M406.21 280.39v5.00M419.22 282.28h5.00M421.72 279.78v5.00M426.66 279.87h5.00M429.16 277.37v5.00M424.80 270.83h5.00M427.30 268.33v5.00M422.94 288.91h5.00M425.44 286.41v5.00M425.82 252.37h5.00M428.32 249.87v5.00M435.27 248.29h5.00M437.77 245.79v5.00M435.90 252.98h5.00M438.40 250.48v5.00M431.70 260.53h5.00M434.20 258.03v5.00M438.00 261.15h5.00M440.50 258.65v5.00M430.02 265.63h5.00M432.52 263.13v5.00M442.62 263.59h5.00M445.12 261.09v5.00M443.67 256.45h5.00M446.17 253.95v5.00M445.77 258.49h5.00M448.27 255.99v5.00M449.97 258.49h5.00M452.47 255.99v5.00M451.02 250.94h5.00M453.52 248.44v5.00M453.12 251.35h5.00M455.62 248.85v5.00M457.32 257.06h5.00M459.82 254.56v5.00M442.20 268.08h5.00M444.70 265.58v5.00M460.47 268.08h5.00M462.97 265.58v5.00M466.77 264.61h5.00M469.27 262.11v5.00M475.17 245.84h5.00M477.67 243.34v5.00M479.37 253.39h5.00M481.87 250.89v5.00M485.25 259.51h5.00M487.75 257.01v5.00M423.72 271.76h5.00M426.22 269.26v5.00M428.97 270.74h5.00M431.47 268.24v5.00M437.37 273.80h5.00M439.87 271.30v5.00M433.17 277.88h5.00M435.67 275.38v5.00M426.87 279.51h5.00M429.37 277.01v5.00M427.92 280.94h5.00M430.42 278.44v5.00M454.80 277.47h5.00M457.30 274.97v5.00M462.57 277.88h5.00M465.07 275.38v5.00M470.34 282.37h5.00M472.84 279.87v5.00M493.02 282.57h5.00M495.52 280.07v5.00M503.10 275.43h5.00M505.60 272.93v5.00M438.84 287.06h5.00M441.34 284.56v5.00M448.50 288.49h5.00M451.00 285.99v5.00M423.72 288.49h5.00M426.22 285.99v5.00M433.80 301.96h5.00M436.30 299.46v5.00M440.52 301.35h5.00M443.02 298.85v5.00" stroke="#30eeee" stroke-width="1.05" fill="none" opacity="0.85"/>
<path d="M325.57 231.91h5.00M328.07 229.41v5.00M321.48 250.95h5.00M323.98 248.45v5.00M327.68 250.71h5.00M330.18 248.21v5.00M323.96 254.56h5.00M326.46 252.06v5.00M319.37 256.73h5.00M321.87 254.23v5.00M333.26 254.80h5.00M335.76 252.30v5.00M334.75 267.82h5.00M337.25 265.32v5.00M339.71 269.99h5.00M342.21 267.49v5.00M341.32 273.85h5.00M343.82 271.35v5.00M342.56 266.37h5.00M345.06 263.87v5.00M336.36 278.91h5.00M338.86 276.41v5.00M337.97 282.89h5.00M340.47 280.39v5.00M351.86 244.92h5.00M354.36 242.42v5.00M353.35 246.73h5.00M355.85 244.23v5.00M354.34 249.14h5.00M356.84 246.64v5.00M356.82 272.04h5.00M359.32 269.54v5.00M360.54 273.85h5.00M363.04 271.35v5.00M359.30 278.67h5.00M361.80 276.17v5.00M359.92 281.68h5.00M362.42 279.18v5.00M350.00 286.50h5.00M352.50 284.00v5.00M355.58 287.10h5.00M358.08 284.60v5.00M358.06 291.92h5.00M360.56 289.42v5.00M354.96 296.14h5.00M357.46 293.64v5.00M367.99 256.97h5.00M370.49 254.47v5.00M366.75 266.62h5.00M369.25 264.12v5.00M369.85 265.41h5.00M372.35 262.91v5.00M361.16 267.82h5.00M363.66 265.32v5.00M365.51 283.49h5.00M368.01 280.99v5.00M369.85 287.10h5.00M372.35 284.60v5.00M396.64 232.27h5.00M399.14 229.77v5.00M374.57 249.14h5.00M377.07 246.64v5.00M386.35 252.15h5.00M388.85 249.65v5.00M387.59 253.96h5.00M390.09 251.46v5.00M371.47 256.97h5.00M373.97 254.47v5.00M377.05 257.58h5.00M379.55 255.08v5.00M380.77 258.78h5.00M383.27 256.28v5.00M373.33 260.59h5.00M375.83 258.09v5.00M382.01 263.00h5.00M384.51 260.50v5.00M389.45 260.59h5.00M391.95 258.09v5.00M395.65 262.40h5.00M398.15 259.90v5.00M400.61 257.58h5.00M403.11 255.08v5.00M373.33 268.42h5.00M375.83 265.92v5.00M384.49 272.04h5.00M386.99 269.54v5.00M378.91 276.26h5.00M381.41 273.76v5.00M391.93 275.65h5.00M394.43 273.15v5.00M393.79 274.45h5.00M396.29 271.95v5.00M399.37 271.44h5.00M401.87 268.94v5.00M403.09 275.65h5.00M405.59 273.15v5.00M405.57 278.67h5.00M408.07 276.17v5.00M390.69 283.49h5.00M393.19 280.99v5.00M396.89 284.69h5.00M399.39 282.19v5.00M418.60 280.47h5.00M421.10 277.97v5.00M414.88 264.20h5.00M417.38 261.70v5.00M410.54 266.62h5.00M413.04 264.12v5.00M422.32 246.13h5.00M424.82 243.63v5.00M388.21 293.13h5.00M390.71 290.63v5.00M366.84 259.43h5.00M369.34 256.93v5.00M369.99 258.38h5.00M372.49 255.88v5.00M373.13 261.52h5.00M375.63 259.02v5.00M376.27 258.38h5.00M378.77 255.88v5.00M378.37 262.56h5.00M380.87 260.06v5.00M380.46 256.29h5.00M382.96 253.79v5.00M382.56 260.47h5.00M385.06 257.97v5.00M387.80 253.15h5.00M390.30 250.65v5.00M367.89 268.84h5.00M370.39 266.34v5.00M372.08 269.89h5.00M374.58 267.39v5.00M376.27 271.98h5.00M378.77 269.48v5.00M363.70 271.98h5.00M366.20 269.48v5.00M366.84 277.21h5.00M369.34 274.71v5.00M374.18 276.16h5.00M376.68 273.66v5.00M378.37 277.21h5.00M380.87 274.71v5.00M382.56 276.16h5.00M385.06 273.66v5.00M361.61 280.35h5.00M364.11 277.85v5.00M358.46 282.44h5.00M360.96 279.94v5.00M365.80 284.53h5.00M368.30 282.03v5.00" stroke="#f04848" stroke-width="1.05" fill="none" opacity="0.85"/>
<path d="M334.50 251.55h5.00M337.00 249.05v5.00M339.21 255.77h5.00M341.71 253.27v5.00M332.64 258.42h5.00M335.14 255.92v5.00M336.36 261.79h5.00M338.86 259.29v5.00M341.32 261.55h5.00M343.82 259.05v5.00M342.56 262.04h5.00M345.06 259.54v5.00M343.80 252.39h5.00M346.30 249.89v5.00M330.78 266.37h5.00M333.28 263.87v5.00M327.31 272.04h5.00M329.81 269.54v5.00M329.54 278.06h5.00M332.04 275.56v5.00M337.60 272.64h5.00M340.10 270.14v5.00M346.28 275.65h5.00M348.78 273.15v5.00M347.52 276.50h5.00M350.02 274.00v5.00M349.38 278.06h5.00M351.88 275.56v5.00M351.24 278.91h5.00M353.74 276.41v5.00M353.10 279.63h5.00M355.60 277.13v5.00M319.37 282.89h5.00M321.87 280.39v5.00M325.20 281.08h5.00M327.70 278.58v5.00M323.09 285.90h5.00M325.59 283.40v5.00M349.38 289.51h5.00M351.88 287.01v5.00M345.04 295.78h5.00M347.54 293.28v5.00M359.55 299.76h5.00M362.05 297.26v5.00M354.10 240.34h5.00M356.60 237.84v5.00M357.44 244.68h5.00M359.94 242.18v5.00M351.86 255.17h5.00M354.36 252.67v5.00M356.20 258.42h5.00M358.70 255.92v5.00M358.68 258.18h5.00M361.18 255.68v5.00M361.16 261.79h5.00M363.66 259.29v5.00M363.03 270.23h5.00M365.53 267.73v5.00M366.75 274.45h5.00M369.25 271.95v5.00M364.27 278.91h5.00M366.77 276.41v5.00M367.99 261.79h5.00M370.49 259.29v5.00M369.85 287.71h5.00M372.35 285.21v5.00M380.52 233.11h5.00M383.02 230.61v5.00M386.35 244.32h5.00M388.85 241.82v5.00M378.29 248.54h5.00M380.79 246.04v5.00M389.45 250.95h5.00M391.95 248.45v5.00M377.67 253.96h5.00M380.17 251.46v5.00M381.39 256.37h5.00M383.89 253.87v5.00M375.19 264.20h5.00M377.69 261.70v5.00M373.33 265.41h5.00M375.83 262.91v5.00M386.35 261.79h5.00M388.85 259.29v5.00M393.17 267.22h5.00M395.67 264.72v5.00M384.49 269.03h5.00M386.99 266.53v5.00M380.15 271.44h5.00M382.65 268.94v5.00M375.81 275.65h5.00M378.31 273.15v5.00M387.59 278.06h5.00M390.09 275.56v5.00M392.55 281.68h5.00M395.05 279.18v5.00M399.99 279.27h5.00M402.49 276.77v5.00M401.85 263.60h5.00M404.35 261.10v5.00M396.27 259.38h5.00M398.77 256.88v5.00M384.49 282.28h5.00M386.99 279.78v5.00M395.65 285.90h5.00M398.15 283.40v5.00M385.11 290.12h5.00M387.61 287.62v5.00M388.83 292.53h5.00M391.33 290.03v5.00M404.33 291.32h5.00M406.83 288.82v5.00M370.23 287.71h5.00M372.73 285.21v5.00M370.85 294.33h5.00M373.35 291.83v5.00M408.05 271.44h5.00M410.55 268.94v5.00M413.02 282.28h5.00M415.52 279.78v5.00M419.22 252.76h5.00M421.72 250.26v5.00M422.94 254.56h5.00M425.44 252.06v5.00M398.13 300.96h5.00M400.63 298.46v5.00M394.41 303.37h5.00M396.91 300.87v5.00M415.50 267.82h5.00M418.00 265.32v5.00M369.99 264.66h5.00M372.49 262.16v5.00M374.18 265.70h5.00M376.68 263.20v5.00M376.27 264.66h5.00M378.77 262.16v5.00M378.37 266.75h5.00M380.87 264.25v5.00M372.08 267.79h5.00M374.58 265.29v5.00M380.46 263.61h5.00M382.96 261.11v5.00M382.56 261.52h5.00M385.06 259.02v5.00M363.70 264.66h5.00M366.20 262.16v5.00M360.56 262.56h5.00M363.06 260.06v5.00M384.65 275.12h5.00M387.15 272.62v5.00M388.84 278.26h5.00M391.34 275.76v5.00M391.99 279.30h5.00M394.49 276.80v5.00M394.08 282.44h5.00M396.58 279.94v5.00M390.94 285.58h5.00M393.44 283.08v5.00M387.80 289.76h5.00M390.30 287.26v5.00M372.08 281.39h5.00M374.58 278.89v5.00M375.22 289.76h5.00M377.72 287.26v5.00M371.03 287.67h5.00M373.53 285.17v5.00" stroke="#3838e0" stroke-width="1.05" fill="none" opacity="0.85"/>
<rect x="316.00" y="227.80" width="223.80" height="81.40" fill="none" stroke="#8c8c8c" stroke-width="1.6"/>
<path d="M316.60 227.80V309.20" stroke="#808080" stroke-width="1.6"/>
<path d="M317.58 309.20v-1.30M320.66 309.20v-1.30M323.37 309.20v-1.30M325.80 309.20v-2.00M341.78 309.20v-1.30M351.12 309.20v-1.30M357.75 309.20v-1.30M362.89 309.20v-1.30M367.10 309.20v-1.30M370.65 309.20v-1.30M373.73 309.20v-1.30M376.44 309.20v-1.30M378.87 309.20v-2.00M394.85 309.20v-1.30M404.19 309.20v-1.30M410.82 309.20v-1.30M415.96 309.20v-1.30M420.17 309.20v-1.30M423.72 309.20v-1.30M426.80 309.20v-1.30M429.51 309.20v-1.30M431.94 309.20v-2.00M447.92 309.20v-1.30M457.26 309.20v-1.30M463.89 309.20v-1.30M469.03 309.20v-1.30M473.24 309.20v-1.30M476.79 309.20v-1.30M479.87 309.20v-1.30M482.58 309.20v-1.30M485.01 309.20v-2.00M500.99 309.20v-1.30M510.33 309.20v-1.30M516.96 309.20v-1.30M522.10 309.20v-1.30M526.31 309.20v-1.30M529.86 309.20v-1.30M532.94 309.20v-1.30M535.65 309.20v-1.30M538.08 309.20v-2.00" stroke="#5a5a5a" stroke-width="1.15" fill="none"/>
<path d="M316.00 309.00h2.5M539.80 309.00h-2.5M316.00 295.40h2.5M539.80 295.40h-2.5M316.00 281.80h2.5M539.80 281.80h-2.5M316.00 268.20h2.5M539.80 268.20h-2.5M316.00 254.60h2.5M539.80 254.60h-2.5M316.00 241.00h2.5M539.80 241.00h-2.5M316.00 227.40h2.5M539.80 227.40h-2.5" stroke="#5a5a5a" stroke-width="1" fill="none"/>
<text x="313.60" y="309.90" font-size="9.0" text-anchor="end" fill="#151515" >-3</text>
<text x="313.60" y="298.50" font-size="9.0" text-anchor="end" fill="#151515" >-2</text>
<text x="313.60" y="284.90" font-size="9.0" text-anchor="end" fill="#151515" >-1</text>
<text x="313.60" y="271.30" font-size="9.0" text-anchor="end" fill="#151515" >0</text>
<text x="313.60" y="257.70" font-size="9.0" text-anchor="end" fill="#151515" >1</text>
<text x="313.60" y="244.10" font-size="9.0" text-anchor="end" fill="#151515" >2</text>
<text x="313.60" y="233.00" font-size="9.0" text-anchor="end" fill="#151515" >3</text>
<text transform="translate(10.60,114.20) rotate(-90)" font-size="8.5" text-anchor="middle" fill="#151515">Counts keV<tspan font-size="5.61" dy="-3.2">-1</tspan><tspan dy="3.2"> s</tspan><tspan font-size="5.61" dy="-3.2">-1</tspan></text>
<text transform="translate(282.60,116.30) rotate(-90)" font-size="8.8" text-anchor="middle" fill="#151515">Counts keV<tspan font-size="5.81" dy="-3.2">-1</tspan><tspan dy="3.2"> s</tspan><tspan font-size="5.81" dy="-3.2">-1</tspan></text>
<text transform="translate(28.20,264.80) rotate(-90)" font-size="9.3" text-anchor="middle" fill="#151515">Residuals</text>
<text transform="translate(300.20,268.00) rotate(-90)" font-size="9.3" text-anchor="middle" fill="#151515">Residuals</text>
<text x="53.50" y="319.70" font-size="10.2" text-anchor="middle" fill="#151515">10<tspan font-size="6.4" dy="-4.00">1</tspan></text>
<text x="104.50" y="319.70" font-size="10.2" text-anchor="middle" fill="#151515">10<tspan font-size="6.4" dy="-4.00">2</tspan></text>
<text x="155.50" y="319.70" font-size="10.2" text-anchor="middle" fill="#151515">10<tspan font-size="6.4" dy="-4.00">3</tspan></text>
<text x="206.50" y="319.70" font-size="10.2" text-anchor="middle" fill="#151515">10<tspan font-size="6.4" dy="-4.00">4</tspan></text>
<text x="257.50" y="319.70" font-size="10.2" text-anchor="middle" fill="#151515">10<tspan font-size="6.4" dy="-4.00">5</tspan></text>
<text x="151.70" y="333.60" font-size="11.2" text-anchor="middle" fill="#151515" >Energy (keV)</text>
<text x="325.80" y="323.00" font-size="10.2" text-anchor="middle" fill="#151515">10<tspan font-size="6.4" dy="-4.00">1</tspan></text>
<text x="378.87" y="323.00" font-size="10.2" text-anchor="middle" fill="#151515">10<tspan font-size="6.4" dy="-4.00">2</tspan></text>
<text x="431.94" y="323.00" font-size="10.2" text-anchor="middle" fill="#151515">10<tspan font-size="6.4" dy="-4.00">3</tspan></text>
<text x="485.01" y="323.00" font-size="10.2" text-anchor="middle" fill="#151515">10<tspan font-size="6.4" dy="-4.00">4</tspan></text>
<text x="538.08" y="323.00" font-size="10.2" text-anchor="middle" fill="#151515">10<tspan font-size="6.4" dy="-4.00">5</tspan></text>
<text x="427.90" y="336.90" font-size="11.2" text-anchor="middle" fill="#151515" >Energy (keV)</text>
<path d="M49.42 361.93v5.66M48.42 364.76h2M50.38 362.89v5.86M49.38 365.82h2M51.40 362.51v8.23M50.40 366.63h2M52.27 364.00v5.01M51.27 366.51h2M53.07 363.31v7.34M52.07 366.98h2M53.72 365.83v5.93M52.72 368.80h2M54.36 362.66v8.99M53.36 367.15h2M55.34 368.16v5.14M54.34 370.73h2M56.12 365.43v6.99M55.12 368.93h2" stroke="#8a8a8a" stroke-width="0.9" fill="none"/>
<path d="M155.59 476.34v6.49M154.59 479.58h2M158.28 483.00v4.25M157.28 485.13h2M159.91 488.84v5.98M158.91 491.83h2M162.16 489.63v6.70M161.16 492.98h2M164.20 491.47v4.69M163.20 493.82h2M166.69 493.77v7.06M165.69 497.30h2M168.33 498.08v6.21M167.33 501.18h2M170.15 500.27v4.58M169.15 502.56h2M160.20 487.71v6.04M159.20 490.73h2M160.20 487.71v5.96M159.20 490.69h2M163.20 490.84v4.47M162.20 493.08h2M166.30 499.71v4.31M165.30 501.86h2M168.30 498.68v6.79M167.30 502.07h2M171.40 506.91v5.62M170.40 509.72h2M174.40 507.24v5.23M173.40 509.85h2M176.50 511.28v6.07M175.50 514.31h2M180.50 515.87v6.18M179.50 518.96h2M184.60 525.08v5.57M183.60 527.87h2M187.60 529.46v4.23M186.60 531.57h2M190.70 534.34v6.48M189.70 537.58h2M195.20 543.24v4.64M194.20 545.56h2M198.80 546.24v4.12M197.80 548.30h2M203.90 555.97v5.06M202.90 558.50h2M209.00 566.90v5.60M208.00 569.70h2M216.10 583.06v5.88M215.10 586.00h2M226.30 599.04v4.52M225.30 601.30h2" stroke="#555" stroke-width="0.9" fill="none"/>
<path d="M56.80 369.51v3.46M55.80 371.24h2M58.19 372.35v3.37M57.19 374.04h2M59.67 370.96v4.03M58.67 372.97h2M60.84 372.12v3.56M59.84 373.90h2M61.68 373.65v5.34M60.68 376.32h2M62.64 373.36v5.91M61.64 376.31h2M64.10 378.07v4.74M63.10 380.44h2M65.43 376.96v3.37M64.43 378.64h2M66.59 378.36v5.77M65.59 381.24h2M68.04 381.15v4.23M67.04 383.26h2M69.12 379.42v5.98M68.12 382.42h2M70.21 383.44v3.08M69.21 384.98h2M71.09 387.48v4.49M70.09 389.72h2M72.26 383.38v4.65M71.26 385.71h2M73.61 383.01v4.67M72.61 385.34h2M74.87 389.05v3.54M73.87 390.82h2M75.81 384.75v4.04M74.81 386.77h2M77.05 386.37v3.92M76.05 388.33h2M77.94 388.05v5.33M76.94 390.71h2M130.55 441.43v4.30M129.55 443.58h2M132.18 443.77v4.61M131.18 446.08h2M133.59 448.48v5.25M132.59 451.10h2M135.23 451.29v4.62M134.23 453.60h2M136.43 450.46v4.25M135.43 452.59h2M138.43 451.26v3.64M137.43 453.08h2M140.28 458.21v3.58M139.28 460.00h2M141.81 459.14v3.66M140.81 460.97h2M143.45 462.27v3.53M142.45 464.04h2M145.03 467.09v3.88M144.03 469.03h2M146.36 462.83v4.98M145.36 465.32h2M147.52 465.95v6.67M146.52 469.28h2M149.38 469.66v4.25M148.38 471.78h2M150.81 469.76v5.71M149.81 472.62h2M152.06 476.56v7.20M151.06 480.16h2M153.98 473.26v3.57M152.98 475.04h2" stroke="#3a3a3a" stroke-width="0.95" fill="none"/>
<path d="M79.02 385.39v6.08M78.02 388.43h2M79.96 394.87v4.83M78.96 397.28h2M81.08 389.47v7.33M80.08 393.13h2M81.97 395.37v4.69M80.97 397.71h2M82.67 389.54v6.94M81.67 393.01h2M83.32 392.40v6.48M82.32 395.64h2M84.15 394.90v6.77M83.15 398.29h2M84.74 394.45v4.89M83.74 396.90h2M85.40 392.50v3.31M84.40 394.16h2M86.15 400.61v6.36M85.15 403.79h2M86.98 402.22v4.13M85.98 404.29h2M88.08 400.70v3.13M87.08 402.27h2M88.76 396.67v6.77M87.76 400.05h2M89.77 402.77v4.92M88.77 405.23h2M90.65 402.30v6.82M89.65 405.71h2M91.39 401.76v6.46M90.39 404.99h2M91.96 399.08v6.08M90.96 402.13h2M93.05 402.67v5.90M92.05 405.62h2M94.09 408.85v5.63M93.09 411.67h2M94.80 400.90v7.08M93.80 404.44h2M95.43 404.04v3.43M94.43 405.75h2M96.05 406.50v3.63M95.05 408.31h2M97.09 408.57v5.95M96.09 411.55h2M97.72 408.05v5.22M96.72 410.66h2M98.41 411.44v3.75M97.41 413.32h2M99.07 406.18v5.48M98.07 408.92h2M99.66 408.18v6.20M98.66 411.28h2M100.71 415.21v3.04M99.71 416.73h2M101.53 410.29v3.29M100.53 411.94h2M102.52 409.19v4.14M101.52 411.25h2M103.47 414.51v4.41M102.47 416.72h2M104.06 410.99v7.05M103.06 414.52h2M104.79 412.87v5.26M103.79 415.50h2M105.65 414.93v5.71M104.65 417.78h2M106.50 416.54v6.31M105.50 419.69h2M107.60 413.75v5.37M106.60 416.43h2M108.48 416.93v3.29M107.48 418.57h2M109.50 419.89v4.43M108.50 422.10h2M110.62 417.64v3.48M109.62 419.38h2M111.22 418.71v6.42M110.22 421.92h2M112.03 423.26v5.80M111.03 426.16h2M112.60 424.56v5.33M111.60 427.22h2M113.38 421.51v4.81M112.38 423.92h2M114.07 424.20v4.11M113.07 426.25h2M115.03 426.30v6.68M114.03 429.64h2M115.99 426.33v4.73M114.99 428.70h2M116.83 424.97v5.84M115.83 427.89h2M117.93 427.42v5.21M116.93 430.03h2M118.89 431.57v7.01M117.89 435.07h2M119.89 433.26v6.01M118.89 436.26h2M120.93 431.52v6.15M119.93 434.59h2M121.88 428.45v4.74M120.88 430.81h2M122.78 433.22v6.71M121.78 436.58h2M123.89 435.89v4.41M122.89 438.09h2M124.62 437.39v4.76M123.62 439.77h2M125.26 437.83v4.36M124.26 440.01h2M126.35 433.56v6.34M125.35 436.73h2M127.17 435.51v6.17M126.17 438.59h2M127.85 441.44v4.51M126.85 443.69h2M128.77 442.07v7.28M127.77 445.71h2M129.51 441.06v4.14M128.51 443.13h2" stroke="#1e1e1e" stroke-width="1.0" fill="none" opacity="0.92"/>
<path d="M235.06 618.39v5M233.76 621.39l1.3 2l1.3 -2" stroke="#666" stroke-width="0.8" fill="none"/>
<clipPath id="c21"><rect x="44.0" y="348.7" width="215.39999999999998" height="301.3"/></clipPath>
<polyline clip-path="url(#c21)" points="43.30,358.44 44.01,359.12 64.21,378.42 84.41,398.99 104.50,416.68 124.70,439.53 140.00,458.80 144.79,464.62 161.98,492.98 184.01,527.12 202.78,557.89 257.19,650.09 260.05,655.02" fill="none" stroke="#e53c3c" stroke-width="0.95"/>
<rect x="44.00" y="348.70" width="215.40" height="301.30" fill="none" stroke="#8c8c8c" stroke-width="1.7"/>
<path d="M45.60 348.70v2.80M45.60 650.00v-2.80M48.56 348.70v2.80M48.56 650.00v-2.80M51.17 348.70v2.80M51.17 650.00v-2.80M53.50 348.70v4.50M53.50 650.00v-4.50M68.85 348.70v2.80M68.85 650.00v-2.80M77.83 348.70v2.80M77.83 650.00v-2.80M84.21 348.70v2.80M84.21 650.00v-2.80M89.15 348.70v2.80M89.15 650.00v-2.80M93.19 348.70v2.80M93.19 650.00v-2.80M96.60 348.70v2.80M96.60 650.00v-2.80M99.56 348.70v2.80M99.56 650.00v-2.80M102.17 348.70v2.80M102.17 650.00v-2.80M104.50 348.70v4.50M104.50 650.00v-4.50M119.85 348.70v2.80M119.85 650.00v-2.80M128.83 348.70v2.80M128.83 650.00v-2.80M135.21 348.70v2.80M135.21 650.00v-2.80M140.15 348.70v2.80M140.15 650.00v-2.80M144.19 348.70v2.80M144.19 650.00v-2.80M147.60 348.70v2.80M147.60 650.00v-2.80M150.56 348.70v2.80M150.56 650.00v-2.80M153.17 348.70v2.80M153.17 650.00v-2.80M155.50 348.70v4.50M155.50 650.00v-4.50M170.85 348.70v2.80M170.85 650.00v-2.80M179.83 348.70v2.80M179.83 650.00v-2.80M186.21 348.70v2.80M186.21 650.00v-2.80M191.15 348.70v2.80M191.15 650.00v-2.80M195.19 348.70v2.80M195.19 650.00v-2.80M198.60 348.70v2.80M198.60 650.00v-2.80M201.56 348.70v2.80M201.56 650.00v-2.80M204.17 348.70v2.80M204.17 650.00v-2.80M206.50 348.70v4.50M206.50 650.00v-4.50M221.85 348.70v2.80M221.85 650.00v-2.80M230.83 348.70v2.80M230.83 650.00v-2.80M237.21 348.70v2.80M237.21 650.00v-2.80M242.15 348.70v2.80M242.15 650.00v-2.80M246.19 348.70v2.80M246.19 650.00v-2.80M249.60 348.70v2.80M249.60 650.00v-2.80M252.56 348.70v2.80M252.56 650.00v-2.80M255.17 348.70v2.80M255.17 650.00v-2.80M257.50 348.70v4.50M257.50 650.00v-4.50" stroke="#5a5a5a" stroke-width="1.15" fill="none"/>
<path d="M44.00 648.30h4.00M259.40 648.30h-4.00M44.00 603.50h4.00M259.40 603.50h-4.00M44.00 558.70h4.00M259.40 558.70h-4.00M44.00 513.90h4.00M259.40 513.90h-4.00M44.00 469.10h4.00M259.40 469.10h-4.00M44.00 424.30h4.00M259.40 424.30h-4.00M44.00 379.50h4.00M259.40 379.50h-4.00" stroke="#5a5a5a" stroke-width="1" fill="none"/>
<path d="M329.03 354.60v8.83M328.03 359.02h2M329.71 360.91v5.74M328.71 363.78h2M330.38 360.59v7.61M329.38 364.39h2M331.17 362.10v8.84M330.17 366.52h2M331.94 364.14v7.40M330.94 367.85h2M333.03 366.56v7.83M332.03 370.48h2M333.66 364.35v8.53M332.66 368.61h2M334.58 364.15v8.40M333.58 368.35h2M335.48 363.97v8.75M334.48 368.34h2" stroke="#8a8a8a" stroke-width="0.9" fill="none"/>
<path d="M435.61 481.13v6.61M434.61 484.43h2M437.33 486.77v4.43M436.33 488.99h2M439.06 486.16v4.99M438.06 488.65h2M441.58 489.85v5.27M440.58 492.48h2M444.34 496.32v4.13M443.34 498.39h2M447.31 499.78v3.90M446.31 501.73h2M449.40 499.93v5.41M448.40 502.63h2M439.65 488.45v4.76M438.65 490.83h2M439.65 488.13v5.33M438.65 490.79h2M442.65 490.50v5.35M441.65 493.18h2M445.75 498.92v6.09M444.75 501.96h2M447.74 499.31v5.73M446.74 502.17h2M450.84 507.47v4.68M449.84 509.82h2M453.83 507.68v4.54M452.83 509.95h2M455.93 511.12v6.58M454.93 514.41h2M459.93 516.98v4.15M458.93 519.06h2M464.02 525.78v4.37M463.02 527.97h2M467.02 529.57v4.21M466.02 531.67h2M470.11 534.44v6.48M469.11 537.68h2M474.61 542.85v5.62M473.61 545.66h2M478.20 545.01v6.77M477.20 548.40h2M483.29 555.76v5.88M482.29 558.70h2M488.39 567.85v5.01M487.39 570.35h2M495.48 584.64v5.29M494.48 587.28h2M505.66 600.39v6.20M504.66 603.49h2" stroke="#555" stroke-width="0.9" fill="none"/>
<path d="M336.49 368.93v5.10M335.49 371.48h2M337.74 371.35v3.78M336.74 373.24h2M339.24 368.17v5.86M338.24 371.10h2M340.52 373.63v3.43M339.52 375.34h2M341.92 375.49v3.15M340.92 377.06h2M343.11 377.68v3.10M342.11 379.23h2M344.59 376.76v4.23M343.59 378.87h2M345.87 378.69v5.75M344.87 381.56h2M346.91 377.74v3.89M345.91 379.68h2M348.15 381.00v4.63M347.15 383.32h2M349.27 383.64v3.26M348.27 385.27h2M350.80 386.05v4.07M349.80 388.08h2M351.92 381.27v5.86M350.92 384.20h2M353.10 384.61v4.20M352.10 386.71h2M353.98 386.64v4.64M352.98 388.96h2M355.05 387.31v3.98M354.05 389.30h2M356.12 387.85v4.61M355.12 390.15h2M357.50 389.67v4.94M356.50 392.14h2M358.46 391.30v4.23M357.46 393.42h2M409.92 441.91v6.73M408.92 445.28h2M411.62 445.05v4.94M410.62 447.52h2M412.93 447.98v4.12M411.93 450.04h2M414.41 451.80v6.61M413.41 455.10h2M415.65 449.97v6.02M414.65 452.98h2M416.69 451.79v7.18M415.69 455.38h2M418.30 452.18v6.26M417.30 455.31h2M420.27 458.20v4.85M419.27 460.62h2M421.69 458.98v5.12M420.69 461.54h2M423.65 460.91v5.73M422.65 463.77h2M425.50 458.42v6.63M424.50 461.73h2M426.75 468.21v5.62M425.75 471.02h2M428.47 470.24v4.46M427.47 472.47h2M430.05 475.63v4.92M429.05 478.09h2M431.88 469.38v5.82M430.88 472.29h2M433.13 476.31v5.16M432.13 478.89h2M434.28 478.46v5.92M433.28 481.42h2" stroke="#3a3a3a" stroke-width="0.95" fill="none"/>
<path d="M359.86 389.30v7.14M358.86 392.87h2M360.68 394.69v5.36M359.68 397.37h2M361.57 395.94v7.46M360.57 399.67h2M362.55 393.55v5.89M361.55 396.50h2M363.30 398.78v6.53M362.30 402.04h2M364.32 400.70v3.08M363.32 402.24h2M365.16 395.05v5.86M364.16 397.98h2M365.91 394.77v4.95M364.91 397.24h2M366.63 399.98v3.19M365.63 401.57h2M367.73 398.98v3.97M366.73 400.97h2M368.43 399.21v6.90M367.43 402.66h2M369.09 399.52v5.11M368.09 402.07h2M369.77 397.61v4.55M368.77 399.89h2M370.74 404.87v3.17M369.74 406.45h2M371.51 401.04v6.82M370.51 404.45h2M372.09 400.87v4.72M371.09 403.23h2M373.07 403.46v6.23M372.07 406.57h2M373.89 403.58v4.20M372.89 405.68h2M374.49 402.36v6.00M373.49 405.35h2M375.14 408.84v3.26M374.14 410.47h2M375.98 406.84v5.72M374.98 409.69h2M376.56 406.39v6.45M375.56 409.61h2M377.12 406.30v5.84M376.12 409.23h2M378.24 409.78v5.41M377.24 412.48h2M378.87 409.31v4.54M377.87 411.58h2M379.92 410.54v4.71M378.92 412.90h2M380.84 409.32v3.79M379.84 411.21h2M381.85 413.77v4.63M380.85 416.09h2M382.88 412.81v5.31M381.88 415.46h2M383.55 411.14v6.77M382.55 414.52h2M384.40 412.16v6.13M383.40 415.22h2M385.41 415.64v4.83M384.41 418.05h2M386.46 416.61v6.43M385.46 419.83h2M387.24 419.24v3.73M386.24 421.11h2M387.83 424.08v4.71M386.83 426.43h2M388.52 420.15v3.69M387.52 421.99h2M389.39 422.65v6.89M388.39 426.10h2M390.29 422.44v3.10M389.29 423.99h2M391.38 421.06v6.09M390.38 424.11h2M392.39 424.98v3.30M391.39 426.63h2M393.05 421.89v5.27M392.05 424.52h2M394.14 426.04v5.80M393.14 428.94h2M395.11 423.18v4.50M394.11 425.43h2M396.22 427.82v7.06M395.22 431.34h2M397.23 428.55v5.93M396.23 431.52h2M397.97 428.78v3.26M396.97 430.41h2M399.05 431.51v4.34M398.05 433.68h2M399.62 430.45v5.00M398.62 432.95h2M400.37 434.66v3.79M399.37 436.55h2M401.19 431.29v6.66M400.19 434.62h2M401.93 431.70v5.44M400.93 434.42h2M402.98 436.67v3.18M401.98 438.26h2M404.07 435.15v5.31M403.07 437.80h2M404.75 436.40v4.40M403.75 438.60h2M405.39 438.52v3.22M404.39 440.13h2M406.51 440.42v5.16M405.51 443.00h2M407.52 441.81v5.27M406.52 444.45h2M408.12 438.62v7.12M407.12 442.18h2M409.00 439.37v5.07M408.00 441.90h2" stroke="#1e1e1e" stroke-width="1.0" fill="none" opacity="0.92"/>
<path d="M514.41 621.37v5M513.11 624.37l1.3 2l1.3 -2" stroke="#666" stroke-width="0.8" fill="none"/>
<clipPath id="c22"><rect x="323.2" y="348.7" width="215.90000000000003" height="301.09999999999997"/></clipPath>
<polyline clip-path="url(#c22)" points="322.91,358.54 323.63,359.22 343.80,378.52 363.96,399.09 384.03,416.78 404.20,439.63 419.48,458.90 424.26,464.72 441.43,493.08 463.43,527.22 482.17,557.99 536.51,655.03 539.37,660.12" fill="none" stroke="#e53c3c" stroke-width="0.95"/>
<rect x="323.20" y="348.70" width="215.90" height="301.10" fill="none" stroke="#8c8c8c" stroke-width="1.7"/>
<path d="M325.21 348.70v2.80M325.21 649.80v-2.80M328.16 348.70v2.80M328.16 649.80v-2.80M330.77 348.70v2.80M330.77 649.80v-2.80M333.10 348.70v4.50M333.10 649.80v-4.50M348.43 348.70v2.80M348.43 649.80v-2.80M357.40 348.70v2.80M357.40 649.80v-2.80M363.76 348.70v2.80M363.76 649.80v-2.80M368.70 348.70v2.80M368.70 649.80v-2.80M372.73 348.70v2.80M372.73 649.80v-2.80M376.14 348.70v2.80M376.14 649.80v-2.80M379.09 348.70v2.80M379.09 649.80v-2.80M381.70 348.70v2.80M381.70 649.80v-2.80M384.03 348.70v4.50M384.03 649.80v-4.50M399.36 348.70v2.80M399.36 649.80v-2.80M408.33 348.70v2.80M408.33 649.80v-2.80M414.69 348.70v2.80M414.69 649.80v-2.80M419.63 348.70v2.80M419.63 649.80v-2.80M423.66 348.70v2.80M423.66 649.80v-2.80M427.07 348.70v2.80M427.07 649.80v-2.80M430.02 348.70v2.80M430.02 649.80v-2.80M432.63 348.70v2.80M432.63 649.80v-2.80M434.96 348.70v4.50M434.96 649.80v-4.50M450.29 348.70v2.80M450.29 649.80v-2.80M459.26 348.70v2.80M459.26 649.80v-2.80M465.62 348.70v2.80M465.62 649.80v-2.80M470.56 348.70v2.80M470.56 649.80v-2.80M474.59 348.70v2.80M474.59 649.80v-2.80M478.00 348.70v2.80M478.00 649.80v-2.80M480.95 348.70v2.80M480.95 649.80v-2.80M483.56 348.70v2.80M483.56 649.80v-2.80M485.89 348.70v4.50M485.89 649.80v-4.50M501.22 348.70v2.80M501.22 649.80v-2.80M510.19 348.70v2.80M510.19 649.80v-2.80M516.55 348.70v2.80M516.55 649.80v-2.80M521.49 348.70v2.80M521.49 649.80v-2.80M525.52 348.70v2.80M525.52 649.80v-2.80M528.93 348.70v2.80M528.93 649.80v-2.80M531.88 348.70v2.80M531.88 649.80v-2.80M534.49 348.70v2.80M534.49 649.80v-2.80M536.82 348.70v4.50M536.82 649.80v-4.50" stroke="#5a5a5a" stroke-width="1.15" fill="none"/>
<path d="M323.20 648.40h4.00M539.10 648.40h-4.00M323.20 603.60h4.00M539.10 603.60h-4.00M323.20 558.80h4.00M539.10 558.80h-4.00M323.20 514.00h4.00M539.10 514.00h-4.00M323.20 469.20h4.00M539.10 469.20h-4.00M323.20 424.40h4.00M539.10 424.40h-4.00M323.20 379.60h4.00M539.10 379.60h-4.00" stroke="#5a5a5a" stroke-width="1" fill="none"/>
<text x="40.60" y="384.50" font-size="14.0" text-anchor="end" fill="#151515">10<tspan font-size="9.0" dy="-5.60">0</tspan></text>
<text x="40.60" y="429.30" font-size="14.0" text-anchor="end" fill="#151515">10<tspan font-size="9.0" dy="-5.60">-1</tspan></text>
<text x="40.60" y="474.10" font-size="14.0" text-anchor="end" fill="#151515">10<tspan font-size="9.0" dy="-5.60">-2</tspan></text>
<text x="40.60" y="518.90" font-size="14.0" text-anchor="end" fill="#151515">10<tspan font-size="9.0" dy="-5.60">-3</tspan></text>
<text x="40.60" y="563.70" font-size="14.0" text-anchor="end" fill="#151515">10<tspan font-size="9.0" dy="-5.60">-4</tspan></text>
<text x="40.60" y="608.50" font-size="14.0" text-anchor="end" fill="#151515">10<tspan font-size="9.0" dy="-5.60">-5</tspan></text>
<text x="40.60" y="653.30" font-size="14.0" text-anchor="end" fill="#151515">10<tspan font-size="9.0" dy="-5.60">-6</tspan></text>
<text x="54.10" y="667.40" font-size="13.4" text-anchor="middle" fill="#151515">10<tspan font-size="8.2" dy="-5.40">1</tspan></text>
<text x="105.10" y="667.40" font-size="13.4" text-anchor="middle" fill="#151515">10<tspan font-size="8.2" dy="-5.40">2</tspan></text>
<text x="156.10" y="667.40" font-size="13.4" text-anchor="middle" fill="#151515">10<tspan font-size="8.2" dy="-5.40">3</tspan></text>
<text x="207.10" y="667.40" font-size="13.4" text-anchor="middle" fill="#151515">10<tspan font-size="8.2" dy="-5.40">4</tspan></text>
<text x="258.10" y="667.40" font-size="13.4" text-anchor="middle" fill="#151515">10<tspan font-size="8.2" dy="-5.40">5</tspan></text>
<text x="151.50" y="684.70" font-size="13.8" text-anchor="middle" fill="#151515" >Energy (keV)</text>
<text transform="translate(12.60,499.50) rotate(-90)" font-size="13.3" text-anchor="middle" fill="#151515">photon cm<tspan font-size="9" dy="-5">-2</tspan><tspan dy="5"> s</tspan><tspan font-size="9" dy="-5">-1</tspan></text>
<text x="319.80" y="384.60" font-size="14.0" text-anchor="end" fill="#151515">10<tspan font-size="9.0" dy="-5.60">0</tspan></text>
<text x="319.80" y="429.40" font-size="14.0" text-anchor="end" fill="#151515">10<tspan font-size="9.0" dy="-5.60">-1</tspan></text>
<text x="319.80" y="474.20" font-size="14.0" text-anchor="end" fill="#151515">10<tspan font-size="9.0" dy="-5.60">-2</tspan></text>
<text x="319.80" y="519.00" font-size="14.0" text-anchor="end" fill="#151515">10<tspan font-size="9.0" dy="-5.60">-3</tspan></text>
<text x="319.80" y="563.80" font-size="14.0" text-anchor="end" fill="#151515">10<tspan font-size="9.0" dy="-5.60">-4</tspan></text>
<text x="319.80" y="608.60" font-size="14.0" text-anchor="end" fill="#151515">10<tspan font-size="9.0" dy="-5.60">-5</tspan></text>
<text x="319.80" y="653.40" font-size="14.0" text-anchor="end" fill="#151515">10<tspan font-size="9.0" dy="-5.60">-6</tspan></text>
<text x="333.70" y="667.40" font-size="13.4" text-anchor="middle" fill="#151515">10<tspan font-size="8.2" dy="-5.40">1</tspan></text>
<text x="384.63" y="667.40" font-size="13.4" text-anchor="middle" fill="#151515">10<tspan font-size="8.2" dy="-5.40">2</tspan></text>
<text x="435.56" y="667.40" font-size="13.4" text-anchor="middle" fill="#151515">10<tspan font-size="8.2" dy="-5.40">3</tspan></text>
<text x="486.49" y="667.40" font-size="13.4" text-anchor="middle" fill="#151515">10<tspan font-size="8.2" dy="-5.40">4</tspan></text>
<text x="537.42" y="667.40" font-size="13.4" text-anchor="middle" fill="#151515">10<tspan font-size="8.2" dy="-5.40">5</tspan></text>
<text x="430.95" y="684.70" font-size="13.8" text-anchor="middle" fill="#151515" >Energy (keV)</text>
<text transform="translate(288.00,499.50) rotate(-90)" font-size="13.3" text-anchor="middle" fill="#151515">photon cm<tspan font-size="9" dy="-5">-2</tspan><tspan dy="5"> s</tspan><tspan font-size="9" dy="-5">-1</tspan></text>
</svg></body></html>
